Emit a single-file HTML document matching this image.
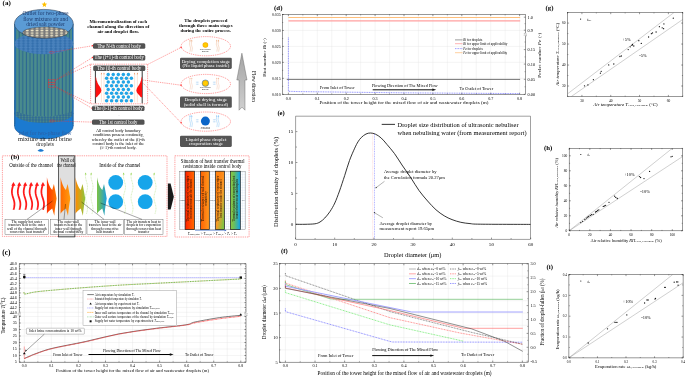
<!DOCTYPE html>
<html><head><meta charset="utf-8"><style>
html,body{margin:0;padding:0;background:#fff;overflow:hidden;}
svg{display:block;font-family:"Liberation Serif", serif;will-change:transform;}
</style></head><body>
<svg width="685" height="377" viewBox="0 0 685 377">
<defs>
<pattern id="stripes" x="15.2" y="0" width="3.6" height="10" patternUnits="userSpaceOnUse">
  <rect width="3.6" height="10" fill="#2b6792"/>
  <rect x="1.0" width="2.4" height="10" fill="#4b8d8c"/>
</pattern>
<pattern id="holes" x="0.5" y="0.3" width="4.6" height="2.7" patternUnits="userSpaceOnUse">
  <rect width="4.6" height="2.7" fill="#3470ae"/>
  <ellipse cx="2.3" cy="1.35" rx="1.4" ry="0.75" fill="#3f7cba" stroke="#6c9fd2" stroke-width="0.35"/>
</pattern>
<pattern id="holes2" x="0.3" y="0.6" width="4.9" height="2.6" patternUnits="userSpaceOnUse">
  <rect width="4.9" height="2.6" fill="#7a7a7a"/>
  <ellipse cx="2.45" cy="1.3" rx="1.5" ry="0.8" fill="#efe6c8"/>
</pattern>
<pattern id="holes3" x="0" y="0" width="3" height="2.4" patternUnits="userSpaceOnUse">
  <rect width="3" height="2.4" fill="#2f6a96"/>
  <ellipse cx="1.5" cy="1.2" rx="1.05" ry="0.75" fill="#4d8d86"/>
</pattern>
<pattern id="dots" x="0" y="0" width="0.8" height="0.8" patternUnits="userSpaceOnUse">
  <rect width="0.8" height="0.8" fill="#e6e6e6"/>
  <rect width="0.4" height="0.4" fill="#cacaca"/>
</pattern>
<linearGradient id="arrowg" x1="0" y1="0" x2="0" y2="1">
  <stop offset="0" stop-color="#a4a4a4"/><stop offset="1" stop-color="#cfcfcf"/>
</linearGradient>
<linearGradient id="w1" x1="0" y1="0" x2="1" y2="0">
  <stop offset="0" stop-color="#ff3000"/><stop offset="1" stop-color="#ff7a00"/>
</linearGradient>
<linearGradient id="w2" x1="0" y1="0" x2="1" y2="0">
  <stop offset="0" stop-color="#ff6a00"/><stop offset="1" stop-color="#ff9d10"/>
</linearGradient>
<linearGradient id="w3" x1="0" y1="0" x2="1" y2="0">
  <stop offset="0" stop-color="#ff8c00"/><stop offset="1" stop-color="#8cc63f"/>
</linearGradient>
<linearGradient id="w4" x1="0" y1="0" x2="1" y2="0">
  <stop offset="0" stop-color="#7dc242"/><stop offset="1" stop-color="#1a9de0"/>
</linearGradient>
<linearGradient id="b1" x1="0" y1="0" x2="1" y2="0">
  <stop offset="0" stop-color="#ff2000"/><stop offset="1" stop-color="#ff6a00"/>
</linearGradient>
<linearGradient id="b2" x1="0" y1="0" x2="1" y2="0">
  <stop offset="0" stop-color="#ff6000"/><stop offset="1" stop-color="#ff9a20"/>
</linearGradient>
<linearGradient id="b3" x1="0.2" y1="0.3" x2="0.8" y2="1">
  <stop offset="0" stop-color="#ff8210"/><stop offset="0.45" stop-color="#f89a28"/><stop offset="1" stop-color="#80c242"/>
</linearGradient>
<linearGradient id="b4" x1="0" y1="0" x2="1" y2="0">
  <stop offset="0" stop-color="#8cc63f"/><stop offset="0.35" stop-color="#6cbf5a"/><stop offset="1" stop-color="#0ea5f0"/>
</linearGradient>
<pattern id="bgrid" x="0" y="0" width="2" height="2.6" patternUnits="userSpaceOnUse">
  <rect width="2" height="2.6" fill="#fff"/>
  <path d="M0,0 H2 M0,0 V2.6" stroke="#a9c3e6" stroke-width="0.3"/>
</pattern>
<radialGradient id="sun" cx="0.5" cy="0.5" r="0.5">
  <stop offset="0" stop-color="#ffd700"/><stop offset="0.7" stop-color="#ffc000"/><stop offset="1" stop-color="#f0a000"/>
</radialGradient>

</defs>
<rect width="685" height="377" fill="#fff"/>
<text x="2.60" y="5.40" font-size="7.0" font-weight="bold">(a)</text>
<polygon points="44.40,1.70 45.17,3.54 47.16,3.70 45.64,5.00 46.10,6.95 44.40,5.90 42.70,6.95 43.16,5.00 41.64,3.70 43.63,3.54" fill="#ffc000"/>
<ellipse cx="43.85" cy="126.00" rx="29.45" ry="12.90" fill="#1b7ad0" stroke="#1a3f70" stroke-width="0.4"/>
<rect x="14.40" y="100.00" width="58.90" height="26.00" rx="0" fill="#1b7ad0" stroke="none" stroke-width="0.5"/>
<ellipse cx="43.85" cy="113.50" rx="29.45" ry="9.40" fill="url(#holes3)" stroke="none" stroke-width="0.5"/>
<clipPath id="bodyclip"><rect x="14.4" y="24" width="58.9" height="84"/><ellipse cx="43.85" cy="108" rx="29.45" ry="8.3"/></clipPath>
<g clip-path="url(#bodyclip)"><rect x="14.4" y="24" width="58.9" height="100" fill="url(#stripes)"/></g>
<rect x="14.40" y="24.00" width="1.30" height="100.00" rx="0" fill="#1f72be" stroke="none" stroke-width="0.5"/>
<rect x="72.00" y="24.00" width="1.30" height="100.00" rx="0" fill="#1f72be" stroke="none" stroke-width="0.5"/>
<line x1="14.60" y1="24.00" x2="14.60" y2="126.00" stroke="#1f4e79" stroke-width="0.5"/>
<line x1="73.10" y1="24.00" x2="73.10" y2="126.00" stroke="#1f4e79" stroke-width="0.5"/>
<ellipse cx="43.85" cy="43.60" rx="29.45" ry="10.60" fill="url(#holes)" stroke="none" stroke-width="0.5"/>
<ellipse cx="43.85" cy="23.70" rx="29.45" ry="14.30" fill="#5b9bd5" stroke="#2a3a50" stroke-width="0.55"/>
<ellipse cx="45.30" cy="32.60" rx="22.60" ry="5.60" fill="url(#holes2)" stroke="#222" stroke-width="0.35"/>
<text x="45.60" y="15.20" font-size="5.9" text-anchor="middle" fill="#1f3c6e" textLength="46.0" lengthAdjust="spacingAndGlyphs">Outlet for two-phase</text>
<text x="45.60" y="20.55" font-size="5.9" text-anchor="middle" fill="#1f3c6e" textLength="44.7" lengthAdjust="spacingAndGlyphs">flow mixture air and</text>
<text x="45.60" y="25.90" font-size="5.9" text-anchor="middle" fill="#1f3c6e" textLength="38.6" lengthAdjust="spacingAndGlyphs">dried salt powder</text>
<text x="45.00" y="134.90" font-size="5.6" text-anchor="middle" fill="#2a5fa6" textLength="53.0" lengthAdjust="spacingAndGlyphs">Inlet for two-phase flow</text>
<text x="44.90" y="140.60" font-size="5.6" text-anchor="middle" fill="#222" textLength="54.0" lengthAdjust="spacingAndGlyphs">mixture air and brine</text>
<text x="45.00" y="145.80" font-size="5.6" text-anchor="middle" fill="#222" textLength="17.8" lengthAdjust="spacingAndGlyphs">droplets</text>
<path d="M37.5,150.7 Q40.75,147.4 44,150.7 Q40.75,152.6 37.5,150.7 Z" fill="#1a78d0" stroke="none" stroke-width="0.5"/>
<ellipse cx="51.50" cy="52.30" rx="2.20" ry="1.00" fill="none" stroke="#ff2a2a" stroke-width="0.4"/>
<rect x="48.50" y="79.50" width="6.50" height="2.60" rx="0" fill="none" stroke="#ff2a2a" stroke-width="0.35"/>
<rect x="48.50" y="82.20" width="6.50" height="2.60" rx="0" fill="none" stroke="#ff2a2a" stroke-width="0.35"/>
<rect x="48.50" y="84.90" width="6.50" height="2.60" rx="0" fill="none" stroke="#ff2a2a" stroke-width="0.35"/>
<ellipse cx="52.00" cy="121.00" rx="2.40" ry="1.00" fill="none" stroke="#ff2a2a" stroke-width="0.4"/>
<line x1="54.00" y1="52.00" x2="92.50" y2="45.80" stroke="#ff2a2a" stroke-width="0.45" stroke-dasharray="1.3,0.9"/>
<circle cx="92.50" cy="45.80" r="0.75" fill="#ff2a2a" stroke="none" stroke-width="0.5"/>
<line x1="55.00" y1="80.50" x2="92.50" y2="57.50" stroke="#ff2a2a" stroke-width="0.45" stroke-dasharray="1.3,0.9"/>
<circle cx="92.50" cy="57.50" r="0.75" fill="#ff2a2a" stroke="none" stroke-width="0.5"/>
<line x1="55.00" y1="80.50" x2="90.60" y2="64.30" stroke="#ff2a2a" stroke-width="0.45" stroke-dasharray="1.3,0.9"/>
<line x1="55.00" y1="86.50" x2="90.60" y2="103.80" stroke="#ff2a2a" stroke-width="0.45" stroke-dasharray="1.3,0.9"/>
<line x1="55.00" y1="86.50" x2="92.30" y2="108.50" stroke="#ff2a2a" stroke-width="0.45" stroke-dasharray="1.3,0.9"/>
<circle cx="92.30" cy="108.50" r="0.75" fill="#ff2a2a" stroke="none" stroke-width="0.5"/>
<line x1="54.50" y1="121.00" x2="92.30" y2="122.10" stroke="#ff2a2a" stroke-width="0.45" stroke-dasharray="1.3,0.9"/>
<circle cx="92.30" cy="122.10" r="0.75" fill="#ff2a2a" stroke="none" stroke-width="0.5"/>
<text x="118.30" y="22.80" font-size="4.9" text-anchor="middle" font-weight="bold" textLength="57.5" lengthAdjust="spacingAndGlyphs">Micromentralization of each</text>
<text x="118.30" y="27.70" font-size="4.9" text-anchor="middle" font-weight="bold" textLength="62.0" lengthAdjust="spacingAndGlyphs">channel along the direction of</text>
<text x="118.30" y="32.60" font-size="4.9" text-anchor="middle" font-weight="bold" textLength="41.7" lengthAdjust="spacingAndGlyphs">air and droplet flow.</text>
<rect x="93.00" y="43.30" width="52.30" height="5.40" rx="1.5" fill="#525252" stroke="none" stroke-width="0.5"/>
<text x="119.15" y="47.50" font-size="5.1" text-anchor="middle" fill="#fff" textLength="43.5" lengthAdjust="spacingAndGlyphs">The N-th control body</text>
<circle cx="119.00" cy="52.60" r="0.3" fill="#99a" stroke="none" stroke-width="0.5"/>
<rect x="93.00" y="55.00" width="52.30" height="5.40" rx="1.5" fill="#525252" stroke="none" stroke-width="0.5"/>
<text x="119.15" y="59.20" font-size="5.1" text-anchor="middle" fill="#fff" textLength="49.3" lengthAdjust="spacingAndGlyphs">The (i+1)-th control body</text>
<rect x="93.20" y="65.60" width="52.10" height="5.40" rx="1.5" fill="#525252" stroke="none" stroke-width="0.5"/>
<text x="119.25" y="69.80" font-size="5.1" text-anchor="middle" fill="#fff" textLength="43.9" lengthAdjust="spacingAndGlyphs">The (i)-th control body</text>
<rect x="92.00" y="105.70" width="52.50" height="5.40" rx="1.5" fill="#525252" stroke="none" stroke-width="0.5"/>
<text x="118.25" y="109.90" font-size="5.1" text-anchor="middle" fill="#fff" textLength="49.0" lengthAdjust="spacingAndGlyphs">The (i-1)-th control body</text>
<circle cx="119.00" cy="115.70" r="0.3" fill="#99a" stroke="none" stroke-width="0.5"/>
<rect x="92.00" y="119.40" width="52.50" height="5.40" rx="1.5" fill="#525252" stroke="none" stroke-width="0.5"/>
<text x="118.25" y="123.60" font-size="5.1" text-anchor="middle" fill="#fff" textLength="38.4" lengthAdjust="spacingAndGlyphs">The 1st control body</text>
<rect x="90.60" y="64.20" width="57.00" height="39.60" rx="0" fill="none" stroke="#ff2a2a" stroke-width="0.45" stroke-dasharray="1.3,0.9"/>
<line x1="95.40" y1="71.00" x2="95.40" y2="103.30" stroke="#222" stroke-width="0.9"/>
<line x1="142.20" y1="71.00" x2="142.20" y2="103.30" stroke="#222" stroke-width="0.9"/>
<line x1="101.40" y1="102.50" x2="101.40" y2="73.60" stroke="#f5a878" stroke-width="0.3"/>
<polygon points="100.75,74.3 102.05,74.3 101.40,72.6" fill="#e8804a"/>
<line x1="104.00" y1="102.50" x2="104.00" y2="73.60" stroke="#f5a878" stroke-width="0.3"/>
<polygon points="103.35,74.3 104.65,74.3 104.00,72.6" fill="#e8804a"/>
<line x1="108.20" y1="102.50" x2="108.20" y2="73.60" stroke="#f5a878" stroke-width="0.3"/>
<polygon points="107.55,74.3 108.85,74.3 108.20,72.6" fill="#e8804a"/>
<line x1="113.25" y1="102.50" x2="113.25" y2="73.60" stroke="#f5a878" stroke-width="0.3"/>
<polygon points="112.60,74.3 113.90,74.3 113.25,72.6" fill="#e8804a"/>
<line x1="118.30" y1="102.50" x2="118.30" y2="73.60" stroke="#f5a878" stroke-width="0.3"/>
<polygon points="117.65,74.3 118.95,74.3 118.30,72.6" fill="#e8804a"/>
<line x1="123.35" y1="102.50" x2="123.35" y2="73.60" stroke="#f5a878" stroke-width="0.3"/>
<polygon points="122.70,74.3 124.00,74.3 123.35,72.6" fill="#e8804a"/>
<line x1="128.40" y1="102.50" x2="128.40" y2="73.60" stroke="#f5a878" stroke-width="0.3"/>
<polygon points="127.75,74.3 129.05,74.3 128.40,72.6" fill="#e8804a"/>
<line x1="134.60" y1="102.50" x2="134.60" y2="73.60" stroke="#f5a878" stroke-width="0.3"/>
<polygon points="133.95,74.3 135.25,74.3 134.60,72.6" fill="#e8804a"/>
<line x1="137.40" y1="102.50" x2="137.40" y2="73.60" stroke="#f5a878" stroke-width="0.3"/>
<polygon points="136.75,74.3 138.05,74.3 137.40,72.6" fill="#e8804a"/>
<circle cx="108.20" cy="74.60" r="1.75" fill="#22a5e6" stroke="none" stroke-width="0.5"/>
<circle cx="113.25" cy="74.60" r="1.75" fill="#22a5e6" stroke="none" stroke-width="0.5"/>
<circle cx="118.30" cy="74.60" r="1.75" fill="#22a5e6" stroke="none" stroke-width="0.5"/>
<circle cx="123.35" cy="74.60" r="1.75" fill="#22a5e6" stroke="none" stroke-width="0.5"/>
<circle cx="128.40" cy="74.60" r="1.75" fill="#22a5e6" stroke="none" stroke-width="0.5"/>
<circle cx="106.60" cy="78.34" r="1.75" fill="#22a5e6" stroke="none" stroke-width="0.5"/>
<circle cx="111.55" cy="78.34" r="1.75" fill="#22a5e6" stroke="none" stroke-width="0.5"/>
<circle cx="116.50" cy="78.34" r="1.75" fill="#22a5e6" stroke="none" stroke-width="0.5"/>
<circle cx="121.45" cy="78.34" r="1.75" fill="#22a5e6" stroke="none" stroke-width="0.5"/>
<circle cx="126.40" cy="78.34" r="1.75" fill="#22a5e6" stroke="none" stroke-width="0.5"/>
<circle cx="131.35" cy="78.34" r="1.75" fill="#22a5e6" stroke="none" stroke-width="0.5"/>
<circle cx="108.20" cy="82.08" r="1.75" fill="#22a5e6" stroke="none" stroke-width="0.5"/>
<circle cx="113.25" cy="82.08" r="1.75" fill="#22a5e6" stroke="none" stroke-width="0.5"/>
<circle cx="118.30" cy="82.08" r="1.75" fill="#22a5e6" stroke="none" stroke-width="0.5"/>
<circle cx="123.35" cy="82.08" r="1.75" fill="#22a5e6" stroke="none" stroke-width="0.5"/>
<circle cx="128.40" cy="82.08" r="1.75" fill="#22a5e6" stroke="none" stroke-width="0.5"/>
<circle cx="106.60" cy="85.82" r="1.75" fill="#22a5e6" stroke="none" stroke-width="0.5"/>
<circle cx="111.55" cy="85.82" r="1.75" fill="#22a5e6" stroke="none" stroke-width="0.5"/>
<circle cx="116.50" cy="85.82" r="1.75" fill="#22a5e6" stroke="none" stroke-width="0.5"/>
<circle cx="121.45" cy="85.82" r="1.75" fill="#22a5e6" stroke="none" stroke-width="0.5"/>
<circle cx="126.40" cy="85.82" r="1.75" fill="#22a5e6" stroke="none" stroke-width="0.5"/>
<circle cx="131.35" cy="85.82" r="1.75" fill="#22a5e6" stroke="none" stroke-width="0.5"/>
<circle cx="108.20" cy="89.56" r="1.75" fill="#22a5e6" stroke="none" stroke-width="0.5"/>
<circle cx="113.25" cy="89.56" r="1.75" fill="#22a5e6" stroke="none" stroke-width="0.5"/>
<circle cx="118.30" cy="89.56" r="1.75" fill="#22a5e6" stroke="none" stroke-width="0.5"/>
<circle cx="123.35" cy="89.56" r="1.75" fill="#22a5e6" stroke="none" stroke-width="0.5"/>
<circle cx="128.40" cy="89.56" r="1.75" fill="#22a5e6" stroke="none" stroke-width="0.5"/>
<circle cx="106.60" cy="93.30" r="1.75" fill="#22a5e6" stroke="none" stroke-width="0.5"/>
<circle cx="111.55" cy="93.30" r="1.75" fill="#22a5e6" stroke="none" stroke-width="0.5"/>
<circle cx="116.50" cy="93.30" r="1.75" fill="#22a5e6" stroke="none" stroke-width="0.5"/>
<circle cx="121.45" cy="93.30" r="1.75" fill="#22a5e6" stroke="none" stroke-width="0.5"/>
<circle cx="126.40" cy="93.30" r="1.75" fill="#22a5e6" stroke="none" stroke-width="0.5"/>
<circle cx="131.35" cy="93.30" r="1.75" fill="#22a5e6" stroke="none" stroke-width="0.5"/>
<circle cx="108.20" cy="97.04" r="1.75" fill="#22a5e6" stroke="none" stroke-width="0.5"/>
<circle cx="113.25" cy="97.04" r="1.75" fill="#22a5e6" stroke="none" stroke-width="0.5"/>
<circle cx="118.30" cy="97.04" r="1.75" fill="#22a5e6" stroke="none" stroke-width="0.5"/>
<circle cx="123.35" cy="97.04" r="1.75" fill="#22a5e6" stroke="none" stroke-width="0.5"/>
<circle cx="128.40" cy="97.04" r="1.75" fill="#22a5e6" stroke="none" stroke-width="0.5"/>
<circle cx="106.60" cy="100.78" r="1.75" fill="#22a5e6" stroke="none" stroke-width="0.5"/>
<circle cx="111.55" cy="100.78" r="1.75" fill="#22a5e6" stroke="none" stroke-width="0.5"/>
<circle cx="116.50" cy="100.78" r="1.75" fill="#22a5e6" stroke="none" stroke-width="0.5"/>
<circle cx="121.45" cy="100.78" r="1.75" fill="#22a5e6" stroke="none" stroke-width="0.5"/>
<circle cx="126.40" cy="100.78" r="1.75" fill="#22a5e6" stroke="none" stroke-width="0.5"/>
<circle cx="131.35" cy="100.78" r="1.75" fill="#22a5e6" stroke="none" stroke-width="0.5"/>
<polygon points="95.60,76.40 96.20,77.80 96.60,80.20 97.10,81.20 97.50,82.80 98.40,84.40 99.60,86.20 100.80,88.20 101.40,90.40 100.80,92.40 99.40,94.30 98.20,95.60 97.00,96.90 95.60,97.60" fill="#ff1010"/>
<polygon points="142.10,76.40 141.50,77.80 141.10,80.20 140.60,81.20 140.20,82.80 139.30,84.40 138.10,86.20 136.90,88.20 136.30,90.40 136.90,92.40 138.30,94.30 139.50,95.60 140.70,96.90 142.10,97.60" fill="#ff1010"/>
<text x="118.30" y="132.30" font-size="4.6" text-anchor="middle" textLength="44.8" lengthAdjust="spacingAndGlyphs">All control body boundary</text>
<text x="118.30" y="136.47" font-size="4.6" text-anchor="middle" textLength="50.8" lengthAdjust="spacingAndGlyphs">conditions possess continuity,</text>
<text x="118.30" y="140.64" font-size="4.6" text-anchor="middle" textLength="52.9" lengthAdjust="spacingAndGlyphs">whereby the outlet of the (i)-th</text>
<text x="118.30" y="144.81" font-size="4.6" text-anchor="middle" textLength="51.6" lengthAdjust="spacingAndGlyphs">control body is the inlet of the</text>
<text x="118.30" y="148.98" font-size="4.6" text-anchor="middle" textLength="36.4" lengthAdjust="spacingAndGlyphs">(i+1)-th control body.</text>
<text x="205.80" y="22.40" font-size="4.9" text-anchor="middle" font-weight="bold" textLength="43.2" lengthAdjust="spacingAndGlyphs">The droplets proceed</text>
<text x="205.80" y="27.25" font-size="4.9" text-anchor="middle" font-weight="bold" textLength="53.6" lengthAdjust="spacingAndGlyphs">through three main stages</text>
<text x="205.80" y="32.10" font-size="4.9" text-anchor="middle" font-weight="bold" textLength="50.4" lengthAdjust="spacingAndGlyphs">during the entire process.</text>
<ellipse cx="205.80" cy="46.20" rx="24.70" ry="9.60" fill="#fff" stroke="#ff2a2a" stroke-width="0.45" stroke-dasharray="1.3,0.9"/>
<circle cx="181.10" cy="47.40" r="0.7" fill="#ff2a2a" stroke="none" stroke-width="0.5"/>
<circle cx="205.40" cy="45.00" r="2.8" fill="url(#sun)" stroke="none" stroke-width="0.5"/>
<text x="205.40" y="50.00" font-size="2.0" text-anchor="middle">Water-soluble</text>
<text x="205.40" y="52.10" font-size="2.0" text-anchor="middle">material</text>
<polyline points="190.00,51.70 190.60,48.20 189.50,44.20 190.00,40.70" fill="none" stroke="#e8a070" stroke-width="0.35"/>
<polygon points="189.40,41.20 190.60,41.20 190.00,39.60" fill="#e8a070"/>
<polyline points="191.80,51.70 192.40,48.20 191.30,44.20 191.80,40.70" fill="none" stroke="#e8a070" stroke-width="0.35"/>
<polygon points="191.20,41.20 192.40,41.20 191.80,39.60" fill="#e8a070"/>
<polyline points="216.80,51.70 217.40,48.20 216.30,44.20 216.80,40.70" fill="none" stroke="#e8a070" stroke-width="0.35"/>
<polygon points="216.20,41.20 217.40,41.20 216.80,39.60" fill="#e8a070"/>
<polyline points="218.60,51.70 219.20,48.20 218.10,44.20 218.60,40.70" fill="none" stroke="#e8a070" stroke-width="0.35"/>
<polygon points="218.00,41.20 219.20,41.20 218.60,39.60" fill="#e8a070"/>
<ellipse cx="205.80" cy="84.00" rx="24.70" ry="9.60" fill="#fff" stroke="#ff2a2a" stroke-width="0.45" stroke-dasharray="1.3,0.9"/>
<circle cx="181.10" cy="85.20" r="0.7" fill="#ff2a2a" stroke="none" stroke-width="0.5"/>
<circle cx="205.40" cy="83.20" r="3.3" fill="url(#sun)" stroke="#2080d0" stroke-width="0.5"/>
<text x="205.40" y="88.30" font-size="2.0" text-anchor="middle">Water-soluble</text>
<text x="205.40" y="90.40" font-size="2.0" text-anchor="middle">material</text>
<polyline points="190.00,89.50 190.60,86.00 189.50,82.00 190.00,78.50" fill="none" stroke="#f0b090" stroke-width="0.35"/>
<polygon points="189.40,79.00 190.60,79.00 190.00,77.40" fill="#f0b090"/>
<polyline points="191.80,89.50 192.40,86.00 191.30,82.00 191.80,78.50" fill="none" stroke="#f0b090" stroke-width="0.35"/>
<polygon points="191.20,79.00 192.40,79.00 191.80,77.40" fill="#f0b090"/>
<polyline points="216.80,89.50 217.40,86.00 216.30,82.00 216.80,78.50" fill="none" stroke="#f0b090" stroke-width="0.35"/>
<polygon points="216.20,79.00 217.40,79.00 216.80,77.40" fill="#f0b090"/>
<polyline points="218.60,89.50 219.20,86.00 218.10,82.00 218.60,78.50" fill="none" stroke="#f0b090" stroke-width="0.35"/>
<polygon points="218.00,79.00 219.20,79.00 218.60,77.40" fill="#f0b090"/>
<line x1="195.90" y1="82.20" x2="197.40" y2="82.20" stroke="#60a8e8" stroke-width="0.35"/>
<line x1="195.90" y1="84.20" x2="197.40" y2="84.20" stroke="#60a8e8" stroke-width="0.35"/>
<line x1="197.10" y1="82.20" x2="198.60" y2="82.20" stroke="#60a8e8" stroke-width="0.35"/>
<line x1="197.10" y1="84.20" x2="198.60" y2="84.20" stroke="#60a8e8" stroke-width="0.35"/>
<line x1="212.90" y1="82.20" x2="214.40" y2="82.20" stroke="#60a8e8" stroke-width="0.35"/>
<line x1="212.90" y1="84.20" x2="214.40" y2="84.20" stroke="#60a8e8" stroke-width="0.35"/>
<line x1="214.10" y1="82.20" x2="215.60" y2="82.20" stroke="#60a8e8" stroke-width="0.35"/>
<line x1="214.10" y1="84.20" x2="215.60" y2="84.20" stroke="#60a8e8" stroke-width="0.35"/>
<ellipse cx="205.80" cy="121.60" rx="24.70" ry="9.60" fill="#fff" stroke="#ff2a2a" stroke-width="0.45" stroke-dasharray="1.3,0.9"/>
<circle cx="181.10" cy="122.80" r="0.7" fill="#ff2a2a" stroke="none" stroke-width="0.5"/>
<circle cx="205.40" cy="121.10" r="4.5" fill="#0b66c8" stroke="none" stroke-width="0.5"/>
<text x="205.40" y="127.60" font-size="2.0" text-anchor="middle">High-speed</text>
<text x="205.40" y="129.40" font-size="2.0" text-anchor="middle">evaporation</text>
<polyline points="190.00,127.10 190.60,123.60 189.50,119.60 190.00,116.10" fill="none" stroke="#60b0f0" stroke-width="0.35"/>
<polygon points="189.40,116.60 190.60,116.60 190.00,115.00" fill="#60b0f0"/>
<polyline points="191.80,127.10 192.40,123.60 191.30,119.60 191.80,116.10" fill="none" stroke="#60b0f0" stroke-width="0.35"/>
<polygon points="191.20,116.60 192.40,116.60 191.80,115.00" fill="#60b0f0"/>
<polyline points="216.80,127.10 217.40,123.60 216.30,119.60 216.80,116.10" fill="none" stroke="#60b0f0" stroke-width="0.35"/>
<polygon points="216.20,116.60 217.40,116.60 216.80,115.00" fill="#60b0f0"/>
<polyline points="218.60,127.10 219.20,123.60 218.10,119.60 218.60,116.10" fill="none" stroke="#60b0f0" stroke-width="0.35"/>
<polygon points="218.00,116.60 219.20,116.60 218.60,115.00" fill="#60b0f0"/>
<line x1="195.90" y1="119.80" x2="197.40" y2="119.80" stroke="#60a8e8" stroke-width="0.35"/>
<line x1="195.90" y1="121.80" x2="197.40" y2="121.80" stroke="#60a8e8" stroke-width="0.35"/>
<line x1="197.10" y1="119.80" x2="198.60" y2="119.80" stroke="#60a8e8" stroke-width="0.35"/>
<line x1="197.10" y1="121.80" x2="198.60" y2="121.80" stroke="#60a8e8" stroke-width="0.35"/>
<line x1="212.90" y1="119.80" x2="214.40" y2="119.80" stroke="#60a8e8" stroke-width="0.35"/>
<line x1="212.90" y1="121.80" x2="214.40" y2="121.80" stroke="#60a8e8" stroke-width="0.35"/>
<line x1="214.10" y1="119.80" x2="215.60" y2="119.80" stroke="#60a8e8" stroke-width="0.35"/>
<line x1="214.10" y1="121.80" x2="215.60" y2="121.80" stroke="#60a8e8" stroke-width="0.35"/>
<rect x="180.00" y="57.80" width="51.80" height="11.10" rx="1.3" fill="#555555" stroke="none" stroke-width="0.5"/>
<text x="205.90" y="62.60" font-size="5.0" text-anchor="middle" fill="#fff" textLength="48.5" lengthAdjust="spacingAndGlyphs">Drying completion stage</text>
<text x="205.90" y="67.40" font-size="5.0" text-anchor="middle" fill="#fff" textLength="47.0" lengthAdjust="spacingAndGlyphs">(No liquid phase inside)</text>
<rect x="180.00" y="96.60" width="51.80" height="11.10" rx="1.3" fill="#555555" stroke="none" stroke-width="0.5"/>
<text x="205.90" y="101.40" font-size="5.0" text-anchor="middle" fill="#fff" textLength="43.0" lengthAdjust="spacingAndGlyphs">Droplet drying stage</text>
<text x="205.90" y="106.20" font-size="5.0" text-anchor="middle" fill="#fff" textLength="44.5" lengthAdjust="spacingAndGlyphs">(solid shell is formed)</text>
<rect x="180.00" y="135.80" width="51.80" height="11.10" rx="1.3" fill="#555555" stroke="none" stroke-width="0.5"/>
<text x="205.90" y="140.60" font-size="5.0" text-anchor="middle" fill="#fff" textLength="40.8" lengthAdjust="spacingAndGlyphs">Liquid phase droplet</text>
<text x="205.90" y="145.40" font-size="5.0" text-anchor="middle" fill="#fff" textLength="34.5" lengthAdjust="spacingAndGlyphs">evaporation stage</text>
<line x1="147.60" y1="64.50" x2="181.10" y2="47.40" stroke="#ff2a2a" stroke-width="0.45" stroke-dasharray="1.3,0.9"/>
<line x1="142.50" y1="80.00" x2="181.10" y2="85.20" stroke="#ff2a2a" stroke-width="0.45" stroke-dasharray="1.3,0.9"/>
<line x1="142.50" y1="82.50" x2="181.10" y2="122.80" stroke="#ff2a2a" stroke-width="0.45" stroke-dasharray="1.3,0.9"/>
<polygon points="241.9,53.2 247.0,80.0 245.0,80.0 245.0,110.2 242.0,107.2 239.0,110.2 239.0,80.0 236.8,80.0" fill="url(#arrowg)" stroke="#555" stroke-width="0.4"/>
<text x="251.60" y="71.00" font-size="5.3" textLength="30.8" lengthAdjust="spacingAndGlyphs" transform="rotate(90 251.60 71.00)">Flow direction</text>
<rect x="2.40" y="155.80" width="164.60" height="80.60" rx="0" fill="none" stroke="#ff2a2a" stroke-width="0.45" stroke-dasharray="1.3,0.9"/>
<rect x="174.90" y="155.80" width="74.20" height="81.20" rx="0" fill="none" stroke="#ff2a2a" stroke-width="0.45" stroke-dasharray="1.3,0.9"/>
<rect x="58.30" y="155.90" width="16.60" height="81.00" rx="0" fill="url(#dots)" stroke="#333" stroke-width="0.5"/>
<text x="10.80" y="159.00" font-size="7.0" font-weight="bold">(b)</text>
<text x="9.30" y="166.60" font-size="5.3" textLength="43.7" lengthAdjust="spacingAndGlyphs">Outside of the channel</text>
<text x="67.30" y="161.80" font-size="5.3" text-anchor="middle" textLength="13.8" lengthAdjust="spacingAndGlyphs">Wall of</text>
<text x="66.30" y="166.60" font-size="5.3" text-anchor="middle" textLength="18.6" lengthAdjust="spacingAndGlyphs">the channel</text>
<text x="99.30" y="166.60" font-size="5.3" textLength="41.1" lengthAdjust="spacingAndGlyphs">Inside of the channel</text>
<polyline points="13.46,209.80 13.81,208.65 14.10,207.50 14.33,206.35 14.47,205.20 14.50,204.05 14.43,202.90 14.25,201.75 14.00,200.60 13.68,199.45 13.32,198.30 12.95,197.15 12.60,196.00 12.30,194.85 12.07,193.70 11.94,192.55 11.90,191.40 11.97,190.25 12.14,189.10 12.39,187.95 12.71,186.80 13.07,185.65 13.44,184.50" fill="none" stroke="#ff1a1a" stroke-width="1.75"/>
<polygon points="11.34,185.70 15.54,185.70 13.44,181.90" fill="#ff1a1a"/>
<polyline points="19.36,209.80 19.71,208.65 20.00,207.50 20.23,206.35 20.37,205.20 20.40,204.05 20.33,202.90 20.15,201.75 19.90,200.60 19.58,199.45 19.22,198.30 18.85,197.15 18.50,196.00 18.20,194.85 17.97,193.70 17.84,192.55 17.80,191.40 17.87,190.25 18.04,189.10 18.29,187.95 18.61,186.80 18.97,185.65 19.34,184.50" fill="none" stroke="#ff1a1a" stroke-width="1.75"/>
<polygon points="17.24,185.70 21.44,185.70 19.34,181.90" fill="#ff1a1a"/>
<polyline points="25.26,209.80 25.61,208.65 25.90,207.50 26.13,206.35 26.27,205.20 26.30,204.05 26.23,202.90 26.05,201.75 25.80,200.60 25.48,199.45 25.12,198.30 24.75,197.15 24.40,196.00 24.10,194.85 23.87,193.70 23.74,192.55 23.70,191.40 23.77,190.25 23.94,189.10 24.19,187.95 24.51,186.80 24.87,185.65 25.24,184.50" fill="none" stroke="#ff1a1a" stroke-width="1.75"/>
<polygon points="23.14,185.70 27.34,185.70 25.24,181.90" fill="#ff1a1a"/>
<polyline points="31.16,209.80 31.51,208.65 31.80,207.50 32.03,206.35 32.17,205.20 32.20,204.05 32.13,202.90 31.95,201.75 31.70,200.60 31.38,199.45 31.02,198.30 30.65,197.15 30.30,196.00 30.00,194.85 29.77,193.70 29.64,192.55 29.60,191.40 29.67,190.25 29.84,189.10 30.09,187.95 30.41,186.80 30.77,185.65 31.14,184.50" fill="none" stroke="#ff1a1a" stroke-width="1.75"/>
<polygon points="29.04,185.70 33.24,185.70 31.14,181.90" fill="#ff1a1a"/>
<polyline points="37.06,209.80 37.41,208.65 37.70,207.50 37.93,206.35 38.07,205.20 38.10,204.05 38.03,202.90 37.85,201.75 37.60,200.60 37.28,199.45 36.92,198.30 36.55,197.15 36.20,196.00 35.90,194.85 35.67,193.70 35.54,192.55 35.50,191.40 35.57,190.25 35.74,189.10 35.99,187.95 36.31,186.80 36.67,185.65 37.04,184.50" fill="none" stroke="#ff1a1a" stroke-width="1.75"/>
<polygon points="34.94,185.70 39.14,185.70 37.04,181.90" fill="#ff1a1a"/>
<polyline points="42.96,209.80 43.31,208.65 43.60,207.50 43.83,206.35 43.97,205.20 44.00,204.05 43.93,202.90 43.75,201.75 43.50,200.60 43.18,199.45 42.82,198.30 42.45,197.15 42.10,196.00 41.80,194.85 41.57,193.70 41.44,192.55 41.40,191.40 41.47,190.25 41.64,189.10 41.89,187.95 42.21,186.80 42.57,185.65 42.94,184.50" fill="none" stroke="#ff1a1a" stroke-width="1.75"/>
<polygon points="40.84,185.70 45.04,185.70 42.94,181.90" fill="#ff1a1a"/>
<path d="M46.90,177.30 C48.00,183.30 50.00,187.90 52.20,189.90 L53.90,183.90 C54.90,188.60 55.90,193.90 56.60,198.50 C55.90,203.10 54.90,208.40 54.30,215.70 L52.20,208.40 C50.00,209.80 48.00,211.70 46.90,213.70 Z" fill="url(#w1)" stroke="none" stroke-width="0.5"/>
<path d="M60.60,177.30 C61.70,183.30 63.70,187.90 65.90,189.90 L67.60,183.90 C68.60,188.60 69.60,193.90 70.30,198.50 C69.60,203.10 68.60,208.40 68.00,215.70 L65.90,208.40 C63.70,209.80 61.70,211.70 60.60,213.70 Z" fill="url(#w2)" stroke="none" stroke-width="0.5"/>
<path d="M75.50,177.30 C76.60,183.30 78.60,187.90 80.80,189.90 L82.50,183.90 C83.50,188.60 84.50,193.90 85.20,198.50 C84.50,203.10 83.50,208.40 82.90,215.70 L80.80,208.40 C78.60,209.80 76.60,211.70 75.50,213.70 Z" fill="url(#w3)" stroke="none" stroke-width="0.5"/>
<path d="M97.00,177.30 C98.10,183.30 100.10,187.90 102.30,189.90 L104.00,183.90 C105.00,188.60 106.00,193.90 106.70,198.50 C106.00,203.10 105.00,208.40 104.40,215.70 L102.30,208.40 C100.10,209.80 98.10,211.70 97.00,213.70 Z" fill="url(#w4)" stroke="none" stroke-width="0.5"/>
<polyline points="86.50,213.80 86.84,212.60 87.14,211.40 87.37,210.20 87.49,209.00 87.48,207.80 87.36,206.60 87.14,205.40 86.83,204.20 86.49,203.00 86.15,201.80 85.85,200.60 85.63,199.40 85.51,198.20 85.52,197.00 85.64,195.80 85.87,194.60 86.17,193.40 86.52,192.20 86.86,191.00 87.16,189.80 87.38,188.60 87.49,187.40 87.48,186.20 87.35,185.00 87.12,183.80 86.82,182.60 86.47,181.40 86.13,180.20 85.84,179.00 85.62,177.80 85.51,176.60 85.52,175.40 85.65,174.20" fill="none" stroke="#8cd040" stroke-width="0.35" stroke-dasharray="1,0.6"/>
<polygon points="84.75,174.60 86.55,174.60 85.65,172.60" fill="#8cd040"/>
<polyline points="92.00,213.80 92.34,212.60 92.64,211.40 92.87,210.20 92.99,209.00 92.98,207.80 92.86,206.60 92.64,205.40 92.33,204.20 91.99,203.00 91.65,201.80 91.35,200.60 91.13,199.40 91.01,198.20 91.02,197.00 91.14,195.80 91.37,194.60 91.67,193.40 92.02,192.20 92.36,191.00 92.66,189.80 92.88,188.60 92.99,187.40 92.98,186.20 92.85,185.00 92.62,183.80 92.32,182.60 91.97,181.40 91.63,180.20 91.34,179.00 91.12,177.80 91.01,176.60 91.02,175.40 91.15,174.20" fill="none" stroke="#8cd040" stroke-width="0.35" stroke-dasharray="1,0.6"/>
<polygon points="90.25,174.60 92.05,174.60 91.15,172.60" fill="#8cd040"/>
<polyline points="124.50,213.80 124.84,212.60 125.14,211.40 125.37,210.20 125.49,209.00 125.48,207.80 125.36,206.60 125.14,205.40 124.83,204.20 124.49,203.00 124.15,201.80 123.85,200.60 123.63,199.40 123.51,198.20 123.52,197.00 123.64,195.80 123.87,194.60 124.17,193.40 124.52,192.20 124.86,191.00 125.16,189.80 125.38,188.60 125.49,187.40 125.48,186.20 125.35,185.00 125.12,183.80 124.82,182.60 124.47,181.40 124.13,180.20 123.84,179.00 123.62,177.80 123.51,176.60 123.52,175.40 123.65,174.20" fill="none" stroke="#8cd040" stroke-width="0.35" stroke-dasharray="1,0.6"/>
<polygon points="122.75,174.60 124.55,174.60 123.65,172.60" fill="#8cd040"/>
<polyline points="132.00,213.80 132.34,212.60 132.64,211.40 132.87,210.20 132.99,209.00 132.98,207.80 132.86,206.60 132.64,205.40 132.33,204.20 131.99,203.00 131.65,201.80 131.35,200.60 131.13,199.40 131.01,198.20 131.02,197.00 131.14,195.80 131.37,194.60 131.67,193.40 132.02,192.20 132.36,191.00 132.66,189.80 132.88,188.60 132.99,187.40 132.98,186.20 132.85,185.00 132.62,183.80 132.32,182.60 131.97,181.40 131.63,180.20 131.34,179.00 131.12,177.80 131.01,176.60 131.02,175.40 131.15,174.20" fill="none" stroke="#8cd040" stroke-width="0.35" stroke-dasharray="1,0.6"/>
<polygon points="130.25,174.60 132.05,174.60 131.15,172.60" fill="#8cd040"/>
<polyline points="155.00,213.80 155.34,212.60 155.64,211.40 155.87,210.20 155.99,209.00 155.98,207.80 155.86,206.60 155.64,205.40 155.33,204.20 154.99,203.00 154.65,201.80 154.35,200.60 154.13,199.40 154.01,198.20 154.02,197.00 154.14,195.80 154.37,194.60 154.67,193.40 155.02,192.20 155.36,191.00 155.66,189.80 155.88,188.60 155.99,187.40 155.98,186.20 155.85,185.00 155.62,183.80 155.32,182.60 154.97,181.40 154.63,180.20 154.34,179.00 154.12,177.80 154.01,176.60 154.02,175.40 154.15,174.20" fill="none" stroke="#8cd040" stroke-width="0.35" stroke-dasharray="1,0.6"/>
<polygon points="153.25,174.60 155.05,174.60 154.15,172.60" fill="#8cd040"/>
<circle cx="115.70" cy="182.40" r="7.4" fill="#17a5ea" stroke="none" stroke-width="0.5"/>
<circle cx="145.20" cy="182.40" r="7.4" fill="#17a5ea" stroke="none" stroke-width="0.5"/>
<circle cx="115.70" cy="201.70" r="7.4" fill="#17a5ea" stroke="none" stroke-width="0.5"/>
<circle cx="145.20" cy="201.70" r="7.4" fill="#17a5ea" stroke="none" stroke-width="0.5"/>
<rect x="5.00" y="219.40" width="43.60" height="15.20" rx="0" fill="#fff" stroke="#555" stroke-width="0.4"/>
<text x="26.80" y="222.60" font-size="3.6" text-anchor="middle">The supply hot water</text>
<text x="26.80" y="226.05" font-size="3.6" text-anchor="middle">transfers heat to the outer</text>
<text x="26.80" y="229.50" font-size="3.6" text-anchor="middle">wall of the channel through</text>
<text x="26.80" y="232.95" font-size="3.6" text-anchor="middle">convective heat transfer</text>
<rect x="50.60" y="219.40" width="35.40" height="15.20" rx="0" fill="#fff" stroke="#555" stroke-width="0.4"/>
<text x="68.30" y="222.60" font-size="3.6" text-anchor="middle">The outer wall</text>
<text x="68.30" y="226.05" font-size="3.6" text-anchor="middle">transfers heat to the</text>
<text x="68.30" y="229.50" font-size="3.6" text-anchor="middle">inner wall through</text>
<text x="68.30" y="232.95" font-size="3.6" text-anchor="middle">thermal conductivity</text>
<rect x="87.00" y="219.40" width="36.20" height="15.20" rx="0" fill="#fff" stroke="#555" stroke-width="0.4"/>
<text x="105.10" y="222.60" font-size="3.6" text-anchor="middle">The inner wall</text>
<text x="105.10" y="226.05" font-size="3.6" text-anchor="middle">transfers heat to the air</text>
<text x="105.10" y="229.50" font-size="3.6" text-anchor="middle">through convective</text>
<text x="105.10" y="232.95" font-size="3.6" text-anchor="middle">heat transfer</text>
<rect x="124.50" y="219.40" width="38.50" height="15.20" rx="0" fill="#fff" stroke="#555" stroke-width="0.4"/>
<text x="143.75" y="222.60" font-size="3.6" text-anchor="middle">The air transfers heat to</text>
<text x="143.75" y="226.05" font-size="3.6" text-anchor="middle">droplets for evaporation</text>
<text x="143.75" y="229.50" font-size="3.6" text-anchor="middle">through convection heat</text>
<text x="143.75" y="232.95" font-size="3.6" text-anchor="middle">transfer</text>
<rect x="58.30" y="155.90" width="16.60" height="81.00" rx="0" fill="none" stroke="#333" stroke-width="0.5"/>
<line x1="27.00" y1="219.40" x2="52.50" y2="201.00" stroke="#000" stroke-width="0.35"/>
<line x1="64.00" y1="219.40" x2="65.50" y2="204.00" stroke="#000" stroke-width="0.35"/>
<line x1="104.00" y1="219.40" x2="81.50" y2="202.00" stroke="#000" stroke-width="0.35"/>
<line x1="142.00" y1="219.40" x2="100.50" y2="203.00" stroke="#000" stroke-width="0.35"/>
<polygon points="167.9,183.5 170.6,183.5 173.8,196.7 170.6,209.4 167.9,209.4" fill="#1a1a1a"/>
<text x="212.70" y="162.90" font-size="5.2" text-anchor="middle" textLength="64.0" lengthAdjust="spacingAndGlyphs">Situation of heat transfer thermal</text>
<text x="212.40" y="167.60" font-size="5.2" text-anchor="middle" textLength="58.3" lengthAdjust="spacingAndGlyphs">resistance inside control body</text>
<rect x="179.30" y="171.20" width="66.30" height="58.40" rx="0" fill="url(#bgrid)" stroke="#666" stroke-width="0.35"/>
<rect x="185.10" y="171.20" width="9.30" height="58.40" rx="0" fill="url(#b1)" stroke="#1a1a1a" stroke-width="0.7"/>
<rect x="200.50" y="171.20" width="8.80" height="58.40" rx="0" fill="url(#b2)" stroke="#1a1a1a" stroke-width="0.7"/>
<rect x="215.60" y="171.20" width="8.80" height="58.40" rx="0" fill="url(#b3)" stroke="#1a1a1a" stroke-width="0.7"/>
<rect x="230.50" y="171.20" width="9.80" height="58.40" rx="0" fill="url(#b4)" stroke="#1a1a1a" stroke-width="0.7"/>
<text x="188.95" y="198.60" font-size="3.0" text-anchor="middle" fill="#201000" textLength="46" lengthAdjust="spacingAndGlyphs" transform="rotate(-90 188.95 198.60)">Thermal resistance of convective</text>
<text x="192.15" y="198.60" font-size="3.0" text-anchor="middle" fill="#201000" textLength="39.6" lengthAdjust="spacingAndGlyphs" transform="rotate(-90 192.15 198.60)">heat transfer outside the channel</text>
<text x="204.10" y="198.60" font-size="3.0" text-anchor="middle" fill="#201000" textLength="46" lengthAdjust="spacingAndGlyphs" transform="rotate(-90 204.10 198.60)">Thermal resistance of wall thermal</text>
<text x="207.30" y="198.60" font-size="3.0" text-anchor="middle" fill="#201000" textLength="14.399999999999999" lengthAdjust="spacingAndGlyphs" transform="rotate(-90 207.30 198.60)">conductivity</text>
<text x="219.20" y="198.60" font-size="3.0" text-anchor="middle" fill="#201000" textLength="46" lengthAdjust="spacingAndGlyphs" transform="rotate(-90 219.20 198.60)">Thermal resistance of convective</text>
<text x="222.40" y="198.60" font-size="3.0" text-anchor="middle" fill="#201000" textLength="38.4" lengthAdjust="spacingAndGlyphs" transform="rotate(-90 222.40 198.60)">heat transfer inside the channel</text>
<text x="234.60" y="198.60" font-size="3.0" text-anchor="middle" fill="#201000" textLength="46" lengthAdjust="spacingAndGlyphs" transform="rotate(-90 234.60 198.60)">Thermal resistance of convection heat</text>
<text x="237.80" y="198.60" font-size="3.0" text-anchor="middle" fill="#201000" textLength="39.6" lengthAdjust="spacingAndGlyphs" transform="rotate(-90 237.80 198.60)">transfer between air and droplets</text>
<text x="182.20" y="201.20" font-size="2.8" text-anchor="middle" fill="#444" font-style="italic">T<tspan font-size="1.6">supply</tspan></text>
<text x="197.40" y="201.20" font-size="2.8" text-anchor="middle" fill="#444" font-style="italic">T<tspan font-size="1.6">wall,out</tspan></text>
<text x="212.40" y="201.20" font-size="2.8" text-anchor="middle" fill="#444" font-style="italic">T<tspan font-size="1.6">wall,in</tspan></text>
<text x="227.40" y="201.20" font-size="2.8" text-anchor="middle" fill="#444" font-style="italic">T<tspan font-size="1.6">a</tspan></text>
<text x="243.00" y="201.20" font-size="2.8" text-anchor="middle" fill="#444" font-style="italic">T<tspan font-size="1.6">d</tspan></text>
<line x1="195.00" y1="230.40" x2="224.50" y2="230.40" stroke="#2f5fc0" stroke-width="0.5"/>
<polygon points="224.5,229.6 226.5,230.4 224.5,231.2" fill="#2f5fc0"/>
<text x="212.20" y="235.00" font-size="3.3" text-anchor="middle" font-style="italic">T<tspan font-size="2">supply,water</tspan> &gt; T<tspan font-size="2">wall,out</tspan> &gt; T<tspan font-size="2">wall,in</tspan> &gt; T<tspan font-size="2">a</tspan> &gt; T<tspan font-size="2">d</tspan></text>
<text x="2.30" y="255.20" font-size="7.3" font-weight="bold">(c)</text>
<line x1="24.30" y1="263.80" x2="24.30" y2="362.20" stroke="#e2e2e2" stroke-width="0.35"/>
<line x1="37.83" y1="263.80" x2="37.83" y2="362.20" stroke="#e2e2e2" stroke-width="0.35"/>
<line x1="51.36" y1="263.80" x2="51.36" y2="362.20" stroke="#e2e2e2" stroke-width="0.35"/>
<line x1="64.89" y1="263.80" x2="64.89" y2="362.20" stroke="#e2e2e2" stroke-width="0.35"/>
<line x1="78.42" y1="263.80" x2="78.42" y2="362.20" stroke="#e2e2e2" stroke-width="0.35"/>
<line x1="91.95" y1="263.80" x2="91.95" y2="362.20" stroke="#e2e2e2" stroke-width="0.35"/>
<line x1="105.48" y1="263.80" x2="105.48" y2="362.20" stroke="#e2e2e2" stroke-width="0.35"/>
<line x1="119.01" y1="263.80" x2="119.01" y2="362.20" stroke="#e2e2e2" stroke-width="0.35"/>
<line x1="132.54" y1="263.80" x2="132.54" y2="362.20" stroke="#e2e2e2" stroke-width="0.35"/>
<line x1="146.07" y1="263.80" x2="146.07" y2="362.20" stroke="#e2e2e2" stroke-width="0.35"/>
<line x1="159.60" y1="263.80" x2="159.60" y2="362.20" stroke="#e2e2e2" stroke-width="0.35"/>
<line x1="173.13" y1="263.80" x2="173.13" y2="362.20" stroke="#e2e2e2" stroke-width="0.35"/>
<line x1="186.66" y1="263.80" x2="186.66" y2="362.20" stroke="#e2e2e2" stroke-width="0.35"/>
<line x1="200.19" y1="263.80" x2="200.19" y2="362.20" stroke="#e2e2e2" stroke-width="0.35"/>
<line x1="213.72" y1="263.80" x2="213.72" y2="362.20" stroke="#e2e2e2" stroke-width="0.35"/>
<line x1="227.25" y1="263.80" x2="227.25" y2="362.20" stroke="#e2e2e2" stroke-width="0.35"/>
<line x1="240.78" y1="263.80" x2="240.78" y2="362.20" stroke="#e2e2e2" stroke-width="0.35"/>
<line x1="19.20" y1="312.30" x2="246.00" y2="312.30" stroke="#e2e2e2" stroke-width="0.35"/>
<line x1="19.20" y1="307.46" x2="246.00" y2="307.46" stroke="#e2e2e2" stroke-width="0.35"/>
<line x1="19.20" y1="302.62" x2="246.00" y2="302.62" stroke="#e2e2e2" stroke-width="0.35"/>
<line x1="19.20" y1="297.78" x2="246.00" y2="297.78" stroke="#e2e2e2" stroke-width="0.35"/>
<line x1="19.20" y1="292.94" x2="246.00" y2="292.94" stroke="#e2e2e2" stroke-width="0.35"/>
<line x1="19.20" y1="288.10" x2="246.00" y2="288.10" stroke="#e2e2e2" stroke-width="0.35"/>
<line x1="19.20" y1="283.26" x2="246.00" y2="283.26" stroke="#e2e2e2" stroke-width="0.35"/>
<line x1="19.20" y1="278.42" x2="246.00" y2="278.42" stroke="#e2e2e2" stroke-width="0.35"/>
<line x1="19.20" y1="273.58" x2="246.00" y2="273.58" stroke="#e2e2e2" stroke-width="0.35"/>
<line x1="19.20" y1="268.74" x2="246.00" y2="268.74" stroke="#e2e2e2" stroke-width="0.35"/>
<line x1="19.20" y1="263.90" x2="246.00" y2="263.90" stroke="#e2e2e2" stroke-width="0.35"/>
<line x1="19.20" y1="362.00" x2="246.00" y2="362.00" stroke="#e2e2e2" stroke-width="0.35"/>
<line x1="19.20" y1="355.50" x2="246.00" y2="355.50" stroke="#e2e2e2" stroke-width="0.35"/>
<line x1="19.20" y1="349.00" x2="246.00" y2="349.00" stroke="#e2e2e2" stroke-width="0.35"/>
<line x1="19.20" y1="342.50" x2="246.00" y2="342.50" stroke="#e2e2e2" stroke-width="0.35"/>
<line x1="19.20" y1="336.00" x2="246.00" y2="336.00" stroke="#e2e2e2" stroke-width="0.35"/>
<line x1="19.20" y1="329.50" x2="246.00" y2="329.50" stroke="#e2e2e2" stroke-width="0.35"/>
<line x1="19.20" y1="323.00" x2="246.00" y2="323.00" stroke="#e2e2e2" stroke-width="0.35"/>
<line x1="19.20" y1="316.50" x2="246.00" y2="316.50" stroke="#e2e2e2" stroke-width="0.35"/>
<rect x="19.20" y="263.80" width="226.80" height="98.40" rx="0" fill="none" stroke="#333" stroke-width="0.5"/>
<line x1="19.20" y1="312.30" x2="20.80" y2="312.30" stroke="#000" stroke-width="0.4"/>
<line x1="246.00" y1="312.30" x2="244.40" y2="312.30" stroke="#000" stroke-width="0.4"/>
<text x="16.90" y="313.70" font-size="4.1" text-anchor="end">44.0</text>
<line x1="19.20" y1="307.46" x2="20.80" y2="307.46" stroke="#000" stroke-width="0.4"/>
<line x1="246.00" y1="307.46" x2="244.40" y2="307.46" stroke="#000" stroke-width="0.4"/>
<text x="16.90" y="308.86" font-size="4.1" text-anchor="end">44.2</text>
<line x1="19.20" y1="302.62" x2="20.80" y2="302.62" stroke="#000" stroke-width="0.4"/>
<line x1="246.00" y1="302.62" x2="244.40" y2="302.62" stroke="#000" stroke-width="0.4"/>
<text x="16.90" y="304.02" font-size="4.1" text-anchor="end">44.4</text>
<line x1="19.20" y1="297.78" x2="20.80" y2="297.78" stroke="#000" stroke-width="0.4"/>
<line x1="246.00" y1="297.78" x2="244.40" y2="297.78" stroke="#000" stroke-width="0.4"/>
<text x="16.90" y="299.18" font-size="4.1" text-anchor="end">44.6</text>
<line x1="19.20" y1="292.94" x2="20.80" y2="292.94" stroke="#000" stroke-width="0.4"/>
<line x1="246.00" y1="292.94" x2="244.40" y2="292.94" stroke="#000" stroke-width="0.4"/>
<text x="16.90" y="294.34" font-size="4.1" text-anchor="end">44.8</text>
<line x1="19.20" y1="288.10" x2="20.80" y2="288.10" stroke="#000" stroke-width="0.4"/>
<line x1="246.00" y1="288.10" x2="244.40" y2="288.10" stroke="#000" stroke-width="0.4"/>
<text x="16.90" y="289.50" font-size="4.1" text-anchor="end">45.0</text>
<line x1="19.20" y1="283.26" x2="20.80" y2="283.26" stroke="#000" stroke-width="0.4"/>
<line x1="246.00" y1="283.26" x2="244.40" y2="283.26" stroke="#000" stroke-width="0.4"/>
<text x="16.90" y="284.66" font-size="4.1" text-anchor="end">45.2</text>
<line x1="19.20" y1="278.42" x2="20.80" y2="278.42" stroke="#000" stroke-width="0.4"/>
<line x1="246.00" y1="278.42" x2="244.40" y2="278.42" stroke="#000" stroke-width="0.4"/>
<text x="16.90" y="279.82" font-size="4.1" text-anchor="end">45.4</text>
<line x1="19.20" y1="273.58" x2="20.80" y2="273.58" stroke="#000" stroke-width="0.4"/>
<line x1="246.00" y1="273.58" x2="244.40" y2="273.58" stroke="#000" stroke-width="0.4"/>
<text x="16.90" y="274.98" font-size="4.1" text-anchor="end">45.6</text>
<line x1="19.20" y1="268.74" x2="20.80" y2="268.74" stroke="#000" stroke-width="0.4"/>
<line x1="246.00" y1="268.74" x2="244.40" y2="268.74" stroke="#000" stroke-width="0.4"/>
<text x="16.90" y="270.14" font-size="4.1" text-anchor="end">45.8</text>
<line x1="19.20" y1="263.90" x2="20.80" y2="263.90" stroke="#000" stroke-width="0.4"/>
<line x1="246.00" y1="263.90" x2="244.40" y2="263.90" stroke="#000" stroke-width="0.4"/>
<text x="16.90" y="265.30" font-size="4.1" text-anchor="end">46.0</text>
<line x1="19.20" y1="309.88" x2="20.10" y2="309.88" stroke="#000" stroke-width="0.35"/>
<line x1="246.00" y1="309.88" x2="245.10" y2="309.88" stroke="#000" stroke-width="0.35"/>
<line x1="19.20" y1="305.04" x2="20.10" y2="305.04" stroke="#000" stroke-width="0.35"/>
<line x1="246.00" y1="305.04" x2="245.10" y2="305.04" stroke="#000" stroke-width="0.35"/>
<line x1="19.20" y1="300.20" x2="20.10" y2="300.20" stroke="#000" stroke-width="0.35"/>
<line x1="246.00" y1="300.20" x2="245.10" y2="300.20" stroke="#000" stroke-width="0.35"/>
<line x1="19.20" y1="295.36" x2="20.10" y2="295.36" stroke="#000" stroke-width="0.35"/>
<line x1="246.00" y1="295.36" x2="245.10" y2="295.36" stroke="#000" stroke-width="0.35"/>
<line x1="19.20" y1="290.52" x2="20.10" y2="290.52" stroke="#000" stroke-width="0.35"/>
<line x1="246.00" y1="290.52" x2="245.10" y2="290.52" stroke="#000" stroke-width="0.35"/>
<line x1="19.20" y1="285.68" x2="20.10" y2="285.68" stroke="#000" stroke-width="0.35"/>
<line x1="246.00" y1="285.68" x2="245.10" y2="285.68" stroke="#000" stroke-width="0.35"/>
<line x1="19.20" y1="280.84" x2="20.10" y2="280.84" stroke="#000" stroke-width="0.35"/>
<line x1="246.00" y1="280.84" x2="245.10" y2="280.84" stroke="#000" stroke-width="0.35"/>
<line x1="19.20" y1="276.00" x2="20.10" y2="276.00" stroke="#000" stroke-width="0.35"/>
<line x1="246.00" y1="276.00" x2="245.10" y2="276.00" stroke="#000" stroke-width="0.35"/>
<line x1="19.20" y1="271.16" x2="20.10" y2="271.16" stroke="#000" stroke-width="0.35"/>
<line x1="246.00" y1="271.16" x2="245.10" y2="271.16" stroke="#000" stroke-width="0.35"/>
<line x1="19.20" y1="266.32" x2="20.10" y2="266.32" stroke="#000" stroke-width="0.35"/>
<line x1="246.00" y1="266.32" x2="245.10" y2="266.32" stroke="#000" stroke-width="0.35"/>
<line x1="19.20" y1="362.00" x2="20.80" y2="362.00" stroke="#000" stroke-width="0.4"/>
<line x1="246.00" y1="362.00" x2="244.40" y2="362.00" stroke="#000" stroke-width="0.4"/>
<text x="16.90" y="363.40" font-size="4.1" text-anchor="end">5</text>
<line x1="19.20" y1="358.75" x2="20.10" y2="358.75" stroke="#000" stroke-width="0.35"/>
<line x1="246.00" y1="358.75" x2="245.10" y2="358.75" stroke="#000" stroke-width="0.35"/>
<line x1="19.20" y1="355.50" x2="20.80" y2="355.50" stroke="#000" stroke-width="0.4"/>
<line x1="246.00" y1="355.50" x2="244.40" y2="355.50" stroke="#000" stroke-width="0.4"/>
<text x="16.90" y="356.90" font-size="4.1" text-anchor="end">10</text>
<line x1="19.20" y1="352.25" x2="20.10" y2="352.25" stroke="#000" stroke-width="0.35"/>
<line x1="246.00" y1="352.25" x2="245.10" y2="352.25" stroke="#000" stroke-width="0.35"/>
<line x1="19.20" y1="349.00" x2="20.80" y2="349.00" stroke="#000" stroke-width="0.4"/>
<line x1="246.00" y1="349.00" x2="244.40" y2="349.00" stroke="#000" stroke-width="0.4"/>
<text x="16.90" y="350.40" font-size="4.1" text-anchor="end">15</text>
<line x1="19.20" y1="345.75" x2="20.10" y2="345.75" stroke="#000" stroke-width="0.35"/>
<line x1="246.00" y1="345.75" x2="245.10" y2="345.75" stroke="#000" stroke-width="0.35"/>
<line x1="19.20" y1="342.50" x2="20.80" y2="342.50" stroke="#000" stroke-width="0.4"/>
<line x1="246.00" y1="342.50" x2="244.40" y2="342.50" stroke="#000" stroke-width="0.4"/>
<text x="16.90" y="343.90" font-size="4.1" text-anchor="end">20</text>
<line x1="19.20" y1="339.25" x2="20.10" y2="339.25" stroke="#000" stroke-width="0.35"/>
<line x1="246.00" y1="339.25" x2="245.10" y2="339.25" stroke="#000" stroke-width="0.35"/>
<line x1="19.20" y1="336.00" x2="20.80" y2="336.00" stroke="#000" stroke-width="0.4"/>
<line x1="246.00" y1="336.00" x2="244.40" y2="336.00" stroke="#000" stroke-width="0.4"/>
<text x="16.90" y="337.40" font-size="4.1" text-anchor="end">25</text>
<line x1="19.20" y1="332.75" x2="20.10" y2="332.75" stroke="#000" stroke-width="0.35"/>
<line x1="246.00" y1="332.75" x2="245.10" y2="332.75" stroke="#000" stroke-width="0.35"/>
<line x1="19.20" y1="329.50" x2="20.80" y2="329.50" stroke="#000" stroke-width="0.4"/>
<line x1="246.00" y1="329.50" x2="244.40" y2="329.50" stroke="#000" stroke-width="0.4"/>
<text x="16.90" y="330.90" font-size="4.1" text-anchor="end">30</text>
<line x1="19.20" y1="326.25" x2="20.10" y2="326.25" stroke="#000" stroke-width="0.35"/>
<line x1="246.00" y1="326.25" x2="245.10" y2="326.25" stroke="#000" stroke-width="0.35"/>
<line x1="19.20" y1="323.00" x2="20.80" y2="323.00" stroke="#000" stroke-width="0.4"/>
<line x1="246.00" y1="323.00" x2="244.40" y2="323.00" stroke="#000" stroke-width="0.4"/>
<text x="16.90" y="324.40" font-size="4.1" text-anchor="end">35</text>
<line x1="19.20" y1="319.75" x2="20.10" y2="319.75" stroke="#000" stroke-width="0.35"/>
<line x1="246.00" y1="319.75" x2="245.10" y2="319.75" stroke="#000" stroke-width="0.35"/>
<line x1="19.20" y1="316.50" x2="20.80" y2="316.50" stroke="#000" stroke-width="0.4"/>
<line x1="246.00" y1="316.50" x2="244.40" y2="316.50" stroke="#000" stroke-width="0.4"/>
<text x="16.90" y="317.90" font-size="4.1" text-anchor="end">40</text>
<rect x="17.60" y="312.60" width="3.20" height="3.20" rx="0" fill="#fff" stroke="none" stroke-width="0.5"/>
<path d="M17.60,313.6 q0.8,-0.8 1.6,0 t1.6,0 M17.60,315.2 q0.8,-0.8 1.6,0 t1.6,0" fill="none" stroke="#333" stroke-width="0.35"/>
<rect x="244.40" y="312.60" width="3.20" height="3.20" rx="0" fill="#fff" stroke="none" stroke-width="0.5"/>
<path d="M244.40,313.6 q0.8,-0.8 1.6,0 t1.6,0 M244.40,315.2 q0.8,-0.8 1.6,0 t1.6,0" fill="none" stroke="#333" stroke-width="0.35"/>
<line x1="24.30" y1="362.20" x2="24.30" y2="360.60" stroke="#000" stroke-width="0.4"/>
<line x1="24.30" y1="263.80" x2="24.30" y2="265.40" stroke="#000" stroke-width="0.4"/>
<text x="24.30" y="366.60" font-size="3.9" text-anchor="middle">0.0</text>
<line x1="37.83" y1="362.20" x2="37.83" y2="361.30" stroke="#000" stroke-width="0.35"/>
<line x1="37.83" y1="263.80" x2="37.83" y2="264.70" stroke="#000" stroke-width="0.35"/>
<line x1="51.36" y1="362.20" x2="51.36" y2="360.60" stroke="#000" stroke-width="0.4"/>
<line x1="51.36" y1="263.80" x2="51.36" y2="265.40" stroke="#000" stroke-width="0.4"/>
<text x="51.36" y="366.60" font-size="3.9" text-anchor="middle">0.1</text>
<line x1="64.89" y1="362.20" x2="64.89" y2="361.30" stroke="#000" stroke-width="0.35"/>
<line x1="64.89" y1="263.80" x2="64.89" y2="264.70" stroke="#000" stroke-width="0.35"/>
<line x1="78.42" y1="362.20" x2="78.42" y2="360.60" stroke="#000" stroke-width="0.4"/>
<line x1="78.42" y1="263.80" x2="78.42" y2="265.40" stroke="#000" stroke-width="0.4"/>
<text x="78.42" y="366.60" font-size="3.9" text-anchor="middle">0.2</text>
<line x1="91.95" y1="362.20" x2="91.95" y2="361.30" stroke="#000" stroke-width="0.35"/>
<line x1="91.95" y1="263.80" x2="91.95" y2="264.70" stroke="#000" stroke-width="0.35"/>
<line x1="105.48" y1="362.20" x2="105.48" y2="360.60" stroke="#000" stroke-width="0.4"/>
<line x1="105.48" y1="263.80" x2="105.48" y2="265.40" stroke="#000" stroke-width="0.4"/>
<text x="105.48" y="366.60" font-size="3.9" text-anchor="middle">0.3</text>
<line x1="119.01" y1="362.20" x2="119.01" y2="361.30" stroke="#000" stroke-width="0.35"/>
<line x1="119.01" y1="263.80" x2="119.01" y2="264.70" stroke="#000" stroke-width="0.35"/>
<line x1="132.54" y1="362.20" x2="132.54" y2="360.60" stroke="#000" stroke-width="0.4"/>
<line x1="132.54" y1="263.80" x2="132.54" y2="265.40" stroke="#000" stroke-width="0.4"/>
<text x="132.54" y="366.60" font-size="3.9" text-anchor="middle">0.4</text>
<line x1="146.07" y1="362.20" x2="146.07" y2="361.30" stroke="#000" stroke-width="0.35"/>
<line x1="146.07" y1="263.80" x2="146.07" y2="264.70" stroke="#000" stroke-width="0.35"/>
<line x1="159.60" y1="362.20" x2="159.60" y2="360.60" stroke="#000" stroke-width="0.4"/>
<line x1="159.60" y1="263.80" x2="159.60" y2="265.40" stroke="#000" stroke-width="0.4"/>
<text x="159.60" y="366.60" font-size="3.9" text-anchor="middle">0.5</text>
<line x1="173.13" y1="362.20" x2="173.13" y2="361.30" stroke="#000" stroke-width="0.35"/>
<line x1="173.13" y1="263.80" x2="173.13" y2="264.70" stroke="#000" stroke-width="0.35"/>
<line x1="186.66" y1="362.20" x2="186.66" y2="360.60" stroke="#000" stroke-width="0.4"/>
<line x1="186.66" y1="263.80" x2="186.66" y2="265.40" stroke="#000" stroke-width="0.4"/>
<text x="186.66" y="366.60" font-size="3.9" text-anchor="middle">0.6</text>
<line x1="200.19" y1="362.20" x2="200.19" y2="361.30" stroke="#000" stroke-width="0.35"/>
<line x1="200.19" y1="263.80" x2="200.19" y2="264.70" stroke="#000" stroke-width="0.35"/>
<line x1="213.72" y1="362.20" x2="213.72" y2="360.60" stroke="#000" stroke-width="0.4"/>
<line x1="213.72" y1="263.80" x2="213.72" y2="265.40" stroke="#000" stroke-width="0.4"/>
<text x="213.72" y="366.60" font-size="3.9" text-anchor="middle">0.7</text>
<line x1="227.25" y1="362.20" x2="227.25" y2="361.30" stroke="#000" stroke-width="0.35"/>
<line x1="227.25" y1="263.80" x2="227.25" y2="264.70" stroke="#000" stroke-width="0.35"/>
<line x1="240.78" y1="362.20" x2="240.78" y2="360.60" stroke="#000" stroke-width="0.4"/>
<line x1="240.78" y1="263.80" x2="240.78" y2="265.40" stroke="#000" stroke-width="0.4"/>
<text x="240.78" y="366.60" font-size="3.9" text-anchor="middle">0.8</text>
<text x="56.0" y="371.8" font-size="4.9" textLength="153" lengthAdjust="spacingAndGlyphs">Position of the tower height for the mixed flow of air and wastewater droplets (m)</text>
<text x="4.7" y="315.6" font-size="5.4" text-anchor="middle" textLength="36" lengthAdjust="spacingAndGlyphs" transform="rotate(-90 4.7 315.6)">Temperature <tspan font-style="italic">T</tspan>(°C)</text>
<polyline points="24.30,277.60 240.78,277.60" fill="none" stroke="#6a6aff" stroke-width="0.6" stroke-dasharray="1.2,0.8"/>
<rect x="23.10" y="275.80" width="2.40" height="2.40" rx="0" fill="#111" stroke="none" stroke-width="0.5"/>
<line x1="24.30" y1="274.40" x2="24.30" y2="279.10" stroke="#000" stroke-width="0.35"/>
<line x1="23.10" y1="274.40" x2="25.50" y2="274.40" stroke="#000" stroke-width="0.35"/>
<rect x="239.58" y="276.40" width="2.40" height="2.40" rx="0" fill="#111" stroke="none" stroke-width="0.5"/>
<path d="M24.00,292.20 C24.17,292.50 23.17,294.03 25.00,294.00 C26.83,293.97 30.23,292.65 35.00,292.00 C39.77,291.35 44.92,290.87 53.60,290.10 C62.28,289.33 75.92,288.23 87.10,287.40 C98.28,286.57 109.52,285.77 120.70,285.10 C131.88,284.43 143.02,283.97 154.20,283.40 C165.38,282.83 177.67,282.22 187.80,281.70 C197.93,281.18 206.17,280.75 215.00,280.30 C223.83,279.85 236.50,279.22 240.80,279.00" fill="none" stroke="#e8a030" stroke-width="0.6" stroke-dasharray="1.4,1.0"/>
<path d="M24.00,292.20 C24.17,292.50 23.17,294.03 25.00,294.00 C26.83,293.97 30.23,292.65 35.00,292.00 C39.77,291.35 44.92,290.87 53.60,290.10 C62.28,289.33 75.92,288.23 87.10,287.40 C98.28,286.57 109.52,285.77 120.70,285.10 C131.88,284.43 143.02,283.97 154.20,283.40 C165.38,282.83 177.67,282.22 187.80,281.70 C197.93,281.18 206.17,280.75 215.00,280.30 C223.83,279.85 236.50,279.22 240.80,279.00" fill="none" stroke="#4cb84c" stroke-width="0.75" stroke-dasharray="1.0,0.6"/>
<path d="M24.30,358.40 C25.25,358.00 28.25,356.73 30.00,356.00 C31.75,355.27 31.20,355.25 34.80,354.00 C38.40,352.75 43.20,350.57 51.60,348.50 C60.00,346.43 74.02,344.03 85.20,341.60 C96.38,339.17 107.52,336.03 118.70,333.90 C129.88,331.77 141.10,330.32 152.30,328.80 C163.50,327.28 178.78,325.93 185.90,324.80 C193.02,323.67 189.40,323.20 195.00,322.00 C200.60,320.80 211.87,318.72 219.50,317.60 C227.13,316.48 237.25,315.68 240.80,315.30" fill="none" stroke="#222" stroke-width="0.6"/>
<path d="M24.30,358.70 C25.25,358.30 28.25,357.03 30.00,356.30 C31.75,355.57 31.20,355.55 34.80,354.30 C38.40,353.05 43.20,350.87 51.60,348.80 C60.00,346.73 74.02,344.33 85.20,341.90 C96.38,339.47 107.52,336.33 118.70,334.20 C129.88,332.07 141.10,330.62 152.30,329.10 C163.50,327.58 178.78,326.15 185.90,325.10 C193.02,324.05 189.40,323.85 195.00,322.80 C200.60,321.75 211.87,319.88 219.50,318.80 C227.13,317.72 237.25,316.72 240.80,316.30" fill="none" stroke="#ff3030" stroke-width="0.75" stroke-dasharray="0.9,0.4"/>
<line x1="24.30" y1="358.50" x2="24.30" y2="346.50" stroke="#ff3030" stroke-width="0.4"/>
<polygon points="22.9,354.3 25.7,354.3 24.3,351.9" fill="#111"/>
<polygon points="239.4,315.6 242.2,315.6 240.8,313.2" fill="#111"/>
<rect x="26.40" y="328.20" width="58.00" height="6.00" rx="0.8" fill="#fff" stroke="#777" stroke-width="0.4"/>
<text x="55.40" y="332.40" font-size="3.8" text-anchor="middle" textLength="52.5" lengthAdjust="spacingAndGlyphs">Inlet brine concentration is 10 wt%</text>
<line x1="44.30" y1="334.20" x2="25.60" y2="351.20" stroke="#000" stroke-width="0.35"/>
<polygon points="25.1,351.8 25.6,349.6 26.9,350.7" fill="#111"/>
<text x="53.30" y="356.10" font-size="4.3" textLength="29.2" lengthAdjust="spacingAndGlyphs">From Inlet of Tower</text>
<text x="103.00" y="351.70" font-size="4.3" textLength="57.7" lengthAdjust="spacingAndGlyphs">Flowing Direction of The Mixed Flow</text>
<line x1="88.50" y1="354.50" x2="170.50" y2="354.50" stroke="#000" stroke-width="1.0"/>
<polygon points="169.8,353.3 173.6,354.5 169.8,355.7" fill="#111"/>
<text x="184.90" y="355.80" font-size="4.3" textLength="28.5" lengthAdjust="spacingAndGlyphs">To Outlet of Tower</text>
<rect x="83.00" y="290.70" width="93.60" height="35.00" rx="0" fill="#fff" stroke="#888" stroke-width="0.4"/>
<line x1="87.30" y1="294.60" x2="93.90" y2="294.60" stroke="#222" stroke-width="0.6"/>
<text x="94.80" y="295.70" font-size="3.3" textLength="39.4" lengthAdjust="spacingAndGlyphs">Air temperature by simulation <tspan font-style="italic">T</tspan><tspan font-size="1.8">a</tspan></text>
<line x1="87.30" y1="299.05" x2="93.90" y2="299.05" stroke="#ff7070" stroke-width="0.6" stroke-dasharray="0.8,0.5"/>
<text x="94.80" y="300.15" font-size="3.3" textLength="46.7" lengthAdjust="spacingAndGlyphs">Saturated droplet temperature by simulation <tspan font-style="italic">T</tspan><tspan font-size="1.8">d</tspan></text>
<polygon points="89.4,304.50 91.8,304.50 90.6,302.40" fill="#111"/>
<text x="94.80" y="304.60" font-size="3.3" textLength="44.4" lengthAdjust="spacingAndGlyphs">Air temperature by experiment test <tspan font-style="italic">T</tspan><tspan font-size="1.8">a</tspan></text>
<line x1="87.30" y1="307.95" x2="93.90" y2="307.95" stroke="#8080ff" stroke-width="0.6" stroke-dasharray="1,0.6"/>
<text x="94.80" y="309.05" font-size="3.3" textLength="65.0" lengthAdjust="spacingAndGlyphs">Supply hot water temperature by simulation <tspan font-style="italic">T</tspan><tspan font-size="1.8">supply,water</tspan></text>
<line x1="87.30" y1="312.40" x2="93.90" y2="312.40" stroke="#ff9900" stroke-width="0.6" stroke-dasharray="1.4,0.7"/>
<text x="94.80" y="313.50" font-size="3.3" textLength="78.8" lengthAdjust="spacingAndGlyphs">Inner wall surface temperature of the channel by simulation <tspan font-style="italic">T</tspan><tspan font-size="1.8">wall,in</tspan></text>
<line x1="87.30" y1="316.85" x2="93.90" y2="316.85" stroke="#3cb043" stroke-width="0.6" stroke-dasharray="0.6,0.8"/>
<text x="94.80" y="317.95" font-size="3.3" textLength="78.8" lengthAdjust="spacingAndGlyphs">Outer wall surface temperature of the channel by simulation <tspan font-style="italic">T</tspan><tspan font-size="1.8">wall,out</tspan></text>
<rect x="89.60" y="320.30" width="2.00" height="2.00" rx="0" fill="#111" stroke="none" stroke-width="0.5"/>
<text x="94.80" y="322.40" font-size="3.3" textLength="69.4" lengthAdjust="spacingAndGlyphs">Supply hot water temperature by experiment test <tspan font-style="italic">T</tspan><tspan font-size="1.8">supply,water</tspan></text>
<text x="274.00" y="9.90" font-size="6.9" font-weight="bold">(d)</text>
<line x1="288.40" y1="14.50" x2="288.40" y2="94.30" stroke="#e2e2e2" stroke-width="0.35"/>
<line x1="302.85" y1="14.50" x2="302.85" y2="94.30" stroke="#e2e2e2" stroke-width="0.35"/>
<line x1="317.30" y1="14.50" x2="317.30" y2="94.30" stroke="#e2e2e2" stroke-width="0.35"/>
<line x1="331.75" y1="14.50" x2="331.75" y2="94.30" stroke="#e2e2e2" stroke-width="0.35"/>
<line x1="346.20" y1="14.50" x2="346.20" y2="94.30" stroke="#e2e2e2" stroke-width="0.35"/>
<line x1="360.65" y1="14.50" x2="360.65" y2="94.30" stroke="#e2e2e2" stroke-width="0.35"/>
<line x1="375.10" y1="14.50" x2="375.10" y2="94.30" stroke="#e2e2e2" stroke-width="0.35"/>
<line x1="389.55" y1="14.50" x2="389.55" y2="94.30" stroke="#e2e2e2" stroke-width="0.35"/>
<line x1="404.00" y1="14.50" x2="404.00" y2="94.30" stroke="#e2e2e2" stroke-width="0.35"/>
<line x1="418.45" y1="14.50" x2="418.45" y2="94.30" stroke="#e2e2e2" stroke-width="0.35"/>
<line x1="432.90" y1="14.50" x2="432.90" y2="94.30" stroke="#e2e2e2" stroke-width="0.35"/>
<line x1="447.35" y1="14.50" x2="447.35" y2="94.30" stroke="#e2e2e2" stroke-width="0.35"/>
<line x1="461.80" y1="14.50" x2="461.80" y2="94.30" stroke="#e2e2e2" stroke-width="0.35"/>
<line x1="476.25" y1="14.50" x2="476.25" y2="94.30" stroke="#e2e2e2" stroke-width="0.35"/>
<line x1="490.70" y1="14.50" x2="490.70" y2="94.30" stroke="#e2e2e2" stroke-width="0.35"/>
<line x1="505.15" y1="14.50" x2="505.15" y2="94.30" stroke="#e2e2e2" stroke-width="0.35"/>
<line x1="519.60" y1="14.50" x2="519.60" y2="94.30" stroke="#e2e2e2" stroke-width="0.35"/>
<line x1="282.30" y1="78.34" x2="525.40" y2="78.34" stroke="#e2e2e2" stroke-width="0.35"/>
<line x1="282.30" y1="62.38" x2="525.40" y2="62.38" stroke="#e2e2e2" stroke-width="0.35"/>
<line x1="282.30" y1="46.42" x2="525.40" y2="46.42" stroke="#e2e2e2" stroke-width="0.35"/>
<line x1="282.30" y1="30.46" x2="525.40" y2="30.46" stroke="#e2e2e2" stroke-width="0.35"/>
<rect x="282.30" y="14.50" width="243.10" height="79.80" rx="0" fill="none" stroke="#333" stroke-width="0.5"/>
<line x1="282.30" y1="94.30" x2="283.90" y2="94.30" stroke="#000" stroke-width="0.4"/>
<text x="280.70" y="95.65" font-size="3.9" text-anchor="end">0.010</text>
<line x1="282.30" y1="86.32" x2="283.20" y2="86.32" stroke="#000" stroke-width="0.35"/>
<line x1="282.30" y1="78.34" x2="283.90" y2="78.34" stroke="#000" stroke-width="0.4"/>
<text x="280.70" y="79.69" font-size="3.9" text-anchor="end">0.015</text>
<line x1="282.30" y1="70.36" x2="283.20" y2="70.36" stroke="#000" stroke-width="0.35"/>
<line x1="282.30" y1="62.38" x2="283.90" y2="62.38" stroke="#000" stroke-width="0.4"/>
<text x="280.70" y="63.73" font-size="3.9" text-anchor="end">0.020</text>
<line x1="282.30" y1="54.40" x2="283.20" y2="54.40" stroke="#000" stroke-width="0.35"/>
<line x1="282.30" y1="46.42" x2="283.90" y2="46.42" stroke="#000" stroke-width="0.4"/>
<text x="280.70" y="47.77" font-size="3.9" text-anchor="end">0.025</text>
<line x1="282.30" y1="38.44" x2="283.20" y2="38.44" stroke="#000" stroke-width="0.35"/>
<line x1="282.30" y1="30.46" x2="283.90" y2="30.46" stroke="#000" stroke-width="0.4"/>
<text x="280.70" y="31.81" font-size="3.9" text-anchor="end">0.030</text>
<line x1="282.30" y1="22.48" x2="283.20" y2="22.48" stroke="#000" stroke-width="0.35"/>
<line x1="282.30" y1="14.50" x2="283.90" y2="14.50" stroke="#000" stroke-width="0.4"/>
<text x="280.70" y="15.85" font-size="3.9" text-anchor="end">0.035</text>
<line x1="288.40" y1="94.30" x2="288.40" y2="92.70" stroke="#000" stroke-width="0.4"/>
<line x1="288.40" y1="14.50" x2="288.40" y2="16.10" stroke="#000" stroke-width="0.4"/>
<text x="288.40" y="99.90" font-size="4.1" text-anchor="middle">0.0</text>
<line x1="302.85" y1="94.30" x2="302.85" y2="93.40" stroke="#000" stroke-width="0.35"/>
<line x1="302.85" y1="14.50" x2="302.85" y2="15.40" stroke="#000" stroke-width="0.35"/>
<line x1="317.30" y1="94.30" x2="317.30" y2="92.70" stroke="#000" stroke-width="0.4"/>
<line x1="317.30" y1="14.50" x2="317.30" y2="16.10" stroke="#000" stroke-width="0.4"/>
<text x="317.30" y="99.90" font-size="4.1" text-anchor="middle">0.1</text>
<line x1="331.75" y1="94.30" x2="331.75" y2="93.40" stroke="#000" stroke-width="0.35"/>
<line x1="331.75" y1="14.50" x2="331.75" y2="15.40" stroke="#000" stroke-width="0.35"/>
<line x1="346.20" y1="94.30" x2="346.20" y2="92.70" stroke="#000" stroke-width="0.4"/>
<line x1="346.20" y1="14.50" x2="346.20" y2="16.10" stroke="#000" stroke-width="0.4"/>
<text x="346.20" y="99.90" font-size="4.1" text-anchor="middle">0.2</text>
<line x1="360.65" y1="94.30" x2="360.65" y2="93.40" stroke="#000" stroke-width="0.35"/>
<line x1="360.65" y1="14.50" x2="360.65" y2="15.40" stroke="#000" stroke-width="0.35"/>
<line x1="375.10" y1="94.30" x2="375.10" y2="92.70" stroke="#000" stroke-width="0.4"/>
<line x1="375.10" y1="14.50" x2="375.10" y2="16.10" stroke="#000" stroke-width="0.4"/>
<text x="375.10" y="99.90" font-size="4.1" text-anchor="middle">0.3</text>
<line x1="389.55" y1="94.30" x2="389.55" y2="93.40" stroke="#000" stroke-width="0.35"/>
<line x1="389.55" y1="14.50" x2="389.55" y2="15.40" stroke="#000" stroke-width="0.35"/>
<line x1="404.00" y1="94.30" x2="404.00" y2="92.70" stroke="#000" stroke-width="0.4"/>
<line x1="404.00" y1="14.50" x2="404.00" y2="16.10" stroke="#000" stroke-width="0.4"/>
<text x="404.00" y="99.90" font-size="4.1" text-anchor="middle">0.4</text>
<line x1="418.45" y1="94.30" x2="418.45" y2="93.40" stroke="#000" stroke-width="0.35"/>
<line x1="418.45" y1="14.50" x2="418.45" y2="15.40" stroke="#000" stroke-width="0.35"/>
<line x1="432.90" y1="94.30" x2="432.90" y2="92.70" stroke="#000" stroke-width="0.4"/>
<line x1="432.90" y1="14.50" x2="432.90" y2="16.10" stroke="#000" stroke-width="0.4"/>
<text x="432.90" y="99.90" font-size="4.1" text-anchor="middle">0.5</text>
<line x1="447.35" y1="94.30" x2="447.35" y2="93.40" stroke="#000" stroke-width="0.35"/>
<line x1="447.35" y1="14.50" x2="447.35" y2="15.40" stroke="#000" stroke-width="0.35"/>
<line x1="461.80" y1="94.30" x2="461.80" y2="92.70" stroke="#000" stroke-width="0.4"/>
<line x1="461.80" y1="14.50" x2="461.80" y2="16.10" stroke="#000" stroke-width="0.4"/>
<text x="461.80" y="99.90" font-size="4.1" text-anchor="middle">0.6</text>
<line x1="476.25" y1="94.30" x2="476.25" y2="93.40" stroke="#000" stroke-width="0.35"/>
<line x1="476.25" y1="14.50" x2="476.25" y2="15.40" stroke="#000" stroke-width="0.35"/>
<line x1="490.70" y1="94.30" x2="490.70" y2="92.70" stroke="#000" stroke-width="0.4"/>
<line x1="490.70" y1="14.50" x2="490.70" y2="16.10" stroke="#000" stroke-width="0.4"/>
<text x="490.70" y="99.90" font-size="4.1" text-anchor="middle">0.7</text>
<line x1="505.15" y1="94.30" x2="505.15" y2="93.40" stroke="#000" stroke-width="0.35"/>
<line x1="505.15" y1="14.50" x2="505.15" y2="15.40" stroke="#000" stroke-width="0.35"/>
<line x1="519.60" y1="94.30" x2="519.60" y2="92.70" stroke="#000" stroke-width="0.4"/>
<line x1="519.60" y1="14.50" x2="519.60" y2="16.10" stroke="#000" stroke-width="0.4"/>
<text x="519.60" y="99.90" font-size="4.1" text-anchor="middle">0.8</text>
<line x1="525.40" y1="17.20" x2="523.80" y2="17.20" stroke="#000" stroke-width="0.4"/>
<text x="527.60" y="18.60" font-size="4.3">1.0</text>
<line x1="525.40" y1="30.20" x2="523.80" y2="30.20" stroke="#000" stroke-width="0.4"/>
<text x="527.60" y="31.60" font-size="4.3">0.9</text>
<line x1="525.40" y1="49.60" x2="523.80" y2="49.60" stroke="#000" stroke-width="0.4"/>
<text x="527.60" y="51.00" font-size="4.3">0.15</text>
<line x1="525.40" y1="64.10" x2="523.80" y2="64.10" stroke="#000" stroke-width="0.4"/>
<text x="527.60" y="65.50" font-size="4.3">0.10</text>
<line x1="525.40" y1="79.30" x2="523.80" y2="79.30" stroke="#000" stroke-width="0.4"/>
<text x="527.60" y="80.70" font-size="4.3">0.05</text>
<line x1="525.40" y1="94.30" x2="523.80" y2="94.30" stroke="#000" stroke-width="0.4"/>
<text x="527.60" y="95.70" font-size="4.3">0.00</text>
<line x1="525.40" y1="23.70" x2="524.50" y2="23.70" stroke="#000" stroke-width="0.35"/>
<line x1="525.40" y1="42.00" x2="524.50" y2="42.00" stroke="#000" stroke-width="0.35"/>
<line x1="525.40" y1="56.90" x2="524.50" y2="56.90" stroke="#000" stroke-width="0.35"/>
<line x1="525.40" y1="71.70" x2="524.50" y2="71.70" stroke="#000" stroke-width="0.35"/>
<line x1="525.40" y1="86.80" x2="524.50" y2="86.80" stroke="#000" stroke-width="0.35"/>
<rect x="523.80" y="33.00" width="3.20" height="3.00" rx="0" fill="#fff" stroke="none" stroke-width="0.5"/>
<path d="M523.80,33.8 q0.8,-0.8 1.6,0 t1.6,0 M523.80,35.4 q0.8,-0.8 1.6,0 t1.6,0" fill="none" stroke="#333" stroke-width="0.35"/>
<text x="265.6" y="57.5" font-size="5.0" text-anchor="middle" textLength="38.5" lengthAdjust="spacingAndGlyphs" transform="rotate(-90 265.6 57.5)">Biot number <tspan font-style="italic">Bi</tspan> (-)</text>
<text x="541.2" y="55.2" font-size="4.9" text-anchor="middle" textLength="45" lengthAdjust="spacingAndGlyphs" transform="rotate(-90 541.2 55.2)">Peclet number <tspan font-style="italic">Pe</tspan> (-)</text>
<text x="319.4" y="103.8" font-size="5.0" textLength="169" lengthAdjust="spacingAndGlyphs">Position of the tower height for the mixed flow of air and wastewater droplets (m)</text>
<line x1="288.40" y1="17.50" x2="520.20" y2="17.50" stroke="#ffbe7a" stroke-width="1.0"/>
<line x1="288.40" y1="20.80" x2="520.20" y2="20.80" stroke="#ffa0a0" stroke-width="1.2"/>
<line x1="286.80" y1="79.40" x2="520.10" y2="79.40" stroke="#3a3a3a" stroke-width="0.7"/>
<polyline points="288.40,37.50 288.40,91.30 300.00,91.60 400.00,92.80 520.00,93.60" fill="none" stroke="#4a4aff" stroke-width="0.6" stroke-dasharray="1,0.7"/>
<text x="319.80" y="88.90" font-size="4.3" textLength="35.0" lengthAdjust="spacingAndGlyphs">From Inlet of Tower</text>
<text x="371.70" y="86.70" font-size="4.3" textLength="66.0" lengthAdjust="spacingAndGlyphs">Flowing Direction of The Mixed Flow</text>
<line x1="372.70" y1="89.80" x2="433.00" y2="89.80" stroke="#000" stroke-width="0.95"/>
<polygon points="432.4,88.6 436.2,89.8 432.4,91.0" fill="#111"/>
<text x="459.60" y="89.80" font-size="4.3" textLength="33.5" lengthAdjust="spacingAndGlyphs">To Outlet of Tower</text>
<line x1="455.00" y1="39.90" x2="462.50" y2="39.90" stroke="#555" stroke-width="0.6"/>
<text x="463.20" y="41.00" font-size="3.4" textLength="19.2" lengthAdjust="spacingAndGlyphs"><tspan font-style="italic">Bi</tspan> for droplets</text>
<line x1="455.00" y1="43.70" x2="462.50" y2="43.70" stroke="#ff8080" stroke-width="0.6"/>
<text x="463.20" y="44.80" font-size="3.4" textLength="44.2" lengthAdjust="spacingAndGlyphs"><tspan font-style="italic">Bi</tspan> for upper limit of applicability</text>
<line x1="455.00" y1="48.60" x2="462.50" y2="48.60" stroke="#4a4aff" stroke-width="0.6" stroke-dasharray="0.9,0.7"/>
<text x="463.20" y="49.70" font-size="3.4" textLength="19.5" lengthAdjust="spacingAndGlyphs"><tspan font-style="italic">Pe</tspan> for droplets</text>
<line x1="455.00" y1="52.70" x2="462.50" y2="52.70" stroke="#ffb060" stroke-width="0.6"/>
<text x="463.20" y="53.80" font-size="3.4" textLength="44.0" lengthAdjust="spacingAndGlyphs"><tspan font-style="italic">Pe</tspan> for upper limit of applicability</text>
<text x="277.40" y="114.80" font-size="6.6" font-weight="bold">(e)</text>
<rect x="295.80" y="116.10" width="234.70" height="123.10" rx="0" fill="none" stroke="#444" stroke-width="0.5"/>
<line x1="295.80" y1="224.30" x2="297.40" y2="224.30" stroke="#000" stroke-width="0.4"/>
<text x="293.20" y="226.00" font-size="5.0" text-anchor="end">0</text>
<line x1="295.80" y1="193.40" x2="297.40" y2="193.40" stroke="#000" stroke-width="0.4"/>
<text x="293.20" y="195.10" font-size="5.0" text-anchor="end">5</text>
<line x1="295.80" y1="162.50" x2="297.40" y2="162.50" stroke="#000" stroke-width="0.4"/>
<text x="293.20" y="164.20" font-size="5.0" text-anchor="end">10</text>
<line x1="295.80" y1="131.60" x2="297.40" y2="131.60" stroke="#000" stroke-width="0.4"/>
<text x="293.20" y="133.30" font-size="5.0" text-anchor="end">15</text>
<line x1="295.80" y1="208.85" x2="296.80" y2="208.85" stroke="#000" stroke-width="0.45"/>
<line x1="295.80" y1="177.95" x2="296.80" y2="177.95" stroke="#000" stroke-width="0.45"/>
<line x1="295.80" y1="147.05" x2="296.80" y2="147.05" stroke="#000" stroke-width="0.45"/>
<line x1="295.50" y1="239.20" x2="295.50" y2="237.60" stroke="#000" stroke-width="0.4"/>
<text x="295.50" y="246.10" font-size="5.0" text-anchor="middle">0</text>
<line x1="315.10" y1="239.20" x2="315.10" y2="238.20" stroke="#000" stroke-width="0.45"/>
<line x1="334.70" y1="239.20" x2="334.70" y2="237.60" stroke="#000" stroke-width="0.4"/>
<text x="334.70" y="246.10" font-size="5.0" text-anchor="middle">10</text>
<line x1="354.30" y1="239.20" x2="354.30" y2="238.20" stroke="#000" stroke-width="0.45"/>
<line x1="373.90" y1="239.20" x2="373.90" y2="237.60" stroke="#000" stroke-width="0.4"/>
<text x="373.90" y="246.10" font-size="5.0" text-anchor="middle">20</text>
<line x1="393.50" y1="239.20" x2="393.50" y2="238.20" stroke="#000" stroke-width="0.45"/>
<line x1="413.10" y1="239.20" x2="413.10" y2="237.60" stroke="#000" stroke-width="0.4"/>
<text x="413.10" y="246.10" font-size="5.0" text-anchor="middle">30</text>
<line x1="432.70" y1="239.20" x2="432.70" y2="238.20" stroke="#000" stroke-width="0.45"/>
<line x1="452.30" y1="239.20" x2="452.30" y2="237.60" stroke="#000" stroke-width="0.4"/>
<text x="452.30" y="246.10" font-size="5.0" text-anchor="middle">40</text>
<line x1="471.90" y1="239.20" x2="471.90" y2="238.20" stroke="#000" stroke-width="0.45"/>
<line x1="491.50" y1="239.20" x2="491.50" y2="237.60" stroke="#000" stroke-width="0.4"/>
<text x="491.50" y="246.10" font-size="5.0" text-anchor="middle">50</text>
<line x1="511.10" y1="239.20" x2="511.10" y2="238.20" stroke="#000" stroke-width="0.45"/>
<line x1="530.70" y1="239.20" x2="530.70" y2="237.60" stroke="#000" stroke-width="0.4"/>
<text x="530.70" y="246.10" font-size="5.0" text-anchor="middle">60</text>
<path d="M295.80,224.30 C297.33,224.30 301.82,224.38 305.00,224.30 C308.18,224.22 312.40,224.18 314.90,223.80 C317.40,223.42 318.35,222.97 320.00,222.00 C321.65,221.03 323.13,219.75 324.80,218.00 C326.47,216.25 328.33,214.00 330.00,211.50 C331.67,209.00 333.22,206.42 334.80,203.00 C336.38,199.58 337.85,195.58 339.50,191.00 C341.15,186.42 343.03,180.58 344.70,175.50 C346.37,170.42 347.83,165.05 349.50,160.50 C351.17,155.95 353.28,151.32 354.70,148.20 C356.12,145.08 356.90,143.58 358.00,141.80 C359.10,140.02 359.97,138.80 361.30,137.50 C362.63,136.20 364.45,134.75 366.00,134.00 C367.55,133.25 369.02,132.97 370.60,133.00 C372.18,133.03 373.73,133.37 375.50,134.20 C377.27,135.03 379.28,136.28 381.20,138.00 C383.12,139.72 384.78,141.90 387.00,144.50 C389.22,147.10 392.00,150.18 394.50,153.60 C397.00,157.02 399.25,160.93 402.00,165.00 C404.75,169.07 408.17,173.75 411.00,178.00 C413.83,182.25 416.23,186.67 419.00,190.50 C421.77,194.33 424.77,197.78 427.60,201.00 C430.43,204.22 433.23,207.33 436.00,209.80 C438.77,212.27 441.53,214.17 444.20,215.80 C446.87,217.43 449.23,218.52 452.00,219.60 C454.77,220.68 457.80,221.63 460.80,222.30 C463.80,222.97 466.68,223.28 470.00,223.60 C473.32,223.92 470.62,224.07 480.70,224.20 C490.78,224.33 522.20,224.37 530.50,224.40" fill="none" stroke="#111" stroke-width="0.85"/>
<line x1="372.70" y1="133.60" x2="372.70" y2="239.20" stroke="#ffa0a0" stroke-width="0.4" stroke-dasharray="0.6,0.6"/>
<line x1="374.50" y1="134.00" x2="374.50" y2="239.20" stroke="#6060ff" stroke-width="0.45" stroke-dasharray="1,0.7"/>
<line x1="381.70" y1="124.40" x2="395.00" y2="124.40" stroke="#444" stroke-width="1.1"/>
<text x="397.6" y="127.1" font-size="5.7" textLength="121" lengthAdjust="spacingAndGlyphs">Droplet size distribution of ultrasonic nebuliser</text>
<text x="397.6" y="134.5" font-size="5.7" textLength="129" lengthAdjust="spacingAndGlyphs">when nebulising water (from measurement report)</text>
<text x="384.10" y="173.20" font-size="4.5" textLength="52.6" lengthAdjust="spacingAndGlyphs">Average droplet diameter by</text>
<text x="384.10" y="178.80" font-size="4.5" textLength="60.8" lengthAdjust="spacingAndGlyphs">the Correlation formula 20.27μm</text>
<line x1="384.50" y1="181.30" x2="376.20" y2="187.60" stroke="#000" stroke-width="0.3"/>
<polygon points="375.4,188.3 376.0,186.8 377.0,187.9" fill="#111"/>
<text x="379.60" y="225.20" font-size="4.5" textLength="52.6" lengthAdjust="spacingAndGlyphs">Average droplet diameter by</text>
<text x="379.60" y="230.30" font-size="4.5" textLength="54.6" lengthAdjust="spacingAndGlyphs">measurement report 19.65μm</text>
<line x1="382.90" y1="217.80" x2="374.30" y2="212.60" stroke="#000" stroke-width="0.3"/>
<polygon points="373.6,212.1 375.2,212.4 374.6,213.6" fill="#111"/>
<text x="277.8" y="182.0" font-size="5.3" text-anchor="middle" textLength="90" lengthAdjust="spacingAndGlyphs" transform="rotate(-90 277.8 182)">Distribution density of droplets (%)</text>
<text x="384.0" y="256.6" font-size="6.4" textLength="57.3" lengthAdjust="spacingAndGlyphs">Droplet diameter (μm)</text>
<text x="281.00" y="252.50" font-size="6.6" font-weight="bold">(f)</text>
<line x1="285.40" y1="263.70" x2="285.40" y2="362.20" stroke="#e2e2e2" stroke-width="0.35"/>
<line x1="300.21" y1="263.70" x2="300.21" y2="362.20" stroke="#e2e2e2" stroke-width="0.35"/>
<line x1="315.02" y1="263.70" x2="315.02" y2="362.20" stroke="#e2e2e2" stroke-width="0.35"/>
<line x1="329.83" y1="263.70" x2="329.83" y2="362.20" stroke="#e2e2e2" stroke-width="0.35"/>
<line x1="344.64" y1="263.70" x2="344.64" y2="362.20" stroke="#e2e2e2" stroke-width="0.35"/>
<line x1="359.45" y1="263.70" x2="359.45" y2="362.20" stroke="#e2e2e2" stroke-width="0.35"/>
<line x1="374.26" y1="263.70" x2="374.26" y2="362.20" stroke="#e2e2e2" stroke-width="0.35"/>
<line x1="389.07" y1="263.70" x2="389.07" y2="362.20" stroke="#e2e2e2" stroke-width="0.35"/>
<line x1="403.88" y1="263.70" x2="403.88" y2="362.20" stroke="#e2e2e2" stroke-width="0.35"/>
<line x1="418.69" y1="263.70" x2="418.69" y2="362.20" stroke="#e2e2e2" stroke-width="0.35"/>
<line x1="433.50" y1="263.70" x2="433.50" y2="362.20" stroke="#e2e2e2" stroke-width="0.35"/>
<line x1="448.31" y1="263.70" x2="448.31" y2="362.20" stroke="#e2e2e2" stroke-width="0.35"/>
<line x1="463.12" y1="263.70" x2="463.12" y2="362.20" stroke="#e2e2e2" stroke-width="0.35"/>
<line x1="477.93" y1="263.70" x2="477.93" y2="362.20" stroke="#e2e2e2" stroke-width="0.35"/>
<line x1="492.74" y1="263.70" x2="492.74" y2="362.20" stroke="#e2e2e2" stroke-width="0.35"/>
<line x1="507.55" y1="263.70" x2="507.55" y2="362.20" stroke="#e2e2e2" stroke-width="0.35"/>
<line x1="522.36" y1="263.70" x2="522.36" y2="362.20" stroke="#e2e2e2" stroke-width="0.35"/>
<line x1="279.40" y1="349.90" x2="528.20" y2="349.90" stroke="#e2e2e2" stroke-width="0.35"/>
<line x1="279.40" y1="337.60" x2="528.20" y2="337.60" stroke="#e2e2e2" stroke-width="0.35"/>
<line x1="279.40" y1="325.30" x2="528.20" y2="325.30" stroke="#e2e2e2" stroke-width="0.35"/>
<line x1="279.40" y1="313.00" x2="528.20" y2="313.00" stroke="#e2e2e2" stroke-width="0.35"/>
<line x1="279.40" y1="300.70" x2="528.20" y2="300.70" stroke="#e2e2e2" stroke-width="0.35"/>
<line x1="279.40" y1="288.40" x2="528.20" y2="288.40" stroke="#e2e2e2" stroke-width="0.35"/>
<line x1="279.40" y1="276.10" x2="528.20" y2="276.10" stroke="#e2e2e2" stroke-width="0.35"/>
<rect x="279.40" y="263.70" width="248.80" height="98.50" rx="0" fill="none" stroke="#333" stroke-width="0.5"/>
<line x1="279.40" y1="362.20" x2="281.00" y2="362.20" stroke="#000" stroke-width="0.4"/>
<text x="277.70" y="363.70" font-size="4.4" text-anchor="end">5</text>
<line x1="279.40" y1="349.90" x2="280.30" y2="349.90" stroke="#000" stroke-width="0.35"/>
<line x1="279.40" y1="337.60" x2="281.00" y2="337.60" stroke="#000" stroke-width="0.4"/>
<text x="277.70" y="339.10" font-size="4.4" text-anchor="end">10</text>
<line x1="279.40" y1="325.30" x2="280.30" y2="325.30" stroke="#000" stroke-width="0.35"/>
<line x1="279.40" y1="313.00" x2="281.00" y2="313.00" stroke="#000" stroke-width="0.4"/>
<text x="277.70" y="314.50" font-size="4.4" text-anchor="end">15</text>
<line x1="279.40" y1="300.70" x2="280.30" y2="300.70" stroke="#000" stroke-width="0.35"/>
<line x1="279.40" y1="288.40" x2="281.00" y2="288.40" stroke="#000" stroke-width="0.4"/>
<text x="277.70" y="289.90" font-size="4.4" text-anchor="end">20</text>
<line x1="279.40" y1="276.10" x2="280.30" y2="276.10" stroke="#000" stroke-width="0.35"/>
<line x1="279.40" y1="263.80" x2="281.00" y2="263.80" stroke="#000" stroke-width="0.4"/>
<text x="277.70" y="265.30" font-size="4.4" text-anchor="end">25</text>
<line x1="285.40" y1="362.20" x2="285.40" y2="360.60" stroke="#000" stroke-width="0.4"/>
<line x1="285.40" y1="263.70" x2="285.40" y2="265.30" stroke="#000" stroke-width="0.4"/>
<text x="285.40" y="367.40" font-size="4.2" text-anchor="middle">0.0</text>
<line x1="300.21" y1="362.20" x2="300.21" y2="361.30" stroke="#000" stroke-width="0.35"/>
<line x1="300.21" y1="263.70" x2="300.21" y2="264.60" stroke="#000" stroke-width="0.35"/>
<line x1="315.02" y1="362.20" x2="315.02" y2="360.60" stroke="#000" stroke-width="0.4"/>
<line x1="315.02" y1="263.70" x2="315.02" y2="265.30" stroke="#000" stroke-width="0.4"/>
<text x="315.02" y="367.40" font-size="4.2" text-anchor="middle">0.1</text>
<line x1="329.83" y1="362.20" x2="329.83" y2="361.30" stroke="#000" stroke-width="0.35"/>
<line x1="329.83" y1="263.70" x2="329.83" y2="264.60" stroke="#000" stroke-width="0.35"/>
<line x1="344.64" y1="362.20" x2="344.64" y2="360.60" stroke="#000" stroke-width="0.4"/>
<line x1="344.64" y1="263.70" x2="344.64" y2="265.30" stroke="#000" stroke-width="0.4"/>
<text x="344.64" y="367.40" font-size="4.2" text-anchor="middle">0.2</text>
<line x1="359.45" y1="362.20" x2="359.45" y2="361.30" stroke="#000" stroke-width="0.35"/>
<line x1="359.45" y1="263.70" x2="359.45" y2="264.60" stroke="#000" stroke-width="0.35"/>
<line x1="374.26" y1="362.20" x2="374.26" y2="360.60" stroke="#000" stroke-width="0.4"/>
<line x1="374.26" y1="263.70" x2="374.26" y2="265.30" stroke="#000" stroke-width="0.4"/>
<text x="374.26" y="367.40" font-size="4.2" text-anchor="middle">0.3</text>
<line x1="389.07" y1="362.20" x2="389.07" y2="361.30" stroke="#000" stroke-width="0.35"/>
<line x1="389.07" y1="263.70" x2="389.07" y2="264.60" stroke="#000" stroke-width="0.35"/>
<line x1="403.88" y1="362.20" x2="403.88" y2="360.60" stroke="#000" stroke-width="0.4"/>
<line x1="403.88" y1="263.70" x2="403.88" y2="265.30" stroke="#000" stroke-width="0.4"/>
<text x="403.88" y="367.40" font-size="4.2" text-anchor="middle">0.4</text>
<line x1="418.69" y1="362.20" x2="418.69" y2="361.30" stroke="#000" stroke-width="0.35"/>
<line x1="418.69" y1="263.70" x2="418.69" y2="264.60" stroke="#000" stroke-width="0.35"/>
<line x1="433.50" y1="362.20" x2="433.50" y2="360.60" stroke="#000" stroke-width="0.4"/>
<line x1="433.50" y1="263.70" x2="433.50" y2="265.30" stroke="#000" stroke-width="0.4"/>
<text x="433.50" y="367.40" font-size="4.2" text-anchor="middle">0.5</text>
<line x1="448.31" y1="362.20" x2="448.31" y2="361.30" stroke="#000" stroke-width="0.35"/>
<line x1="448.31" y1="263.70" x2="448.31" y2="264.60" stroke="#000" stroke-width="0.35"/>
<line x1="463.12" y1="362.20" x2="463.12" y2="360.60" stroke="#000" stroke-width="0.4"/>
<line x1="463.12" y1="263.70" x2="463.12" y2="265.30" stroke="#000" stroke-width="0.4"/>
<text x="463.12" y="367.40" font-size="4.2" text-anchor="middle">0.6</text>
<line x1="477.93" y1="362.20" x2="477.93" y2="361.30" stroke="#000" stroke-width="0.35"/>
<line x1="477.93" y1="263.70" x2="477.93" y2="264.60" stroke="#000" stroke-width="0.35"/>
<line x1="492.74" y1="362.20" x2="492.74" y2="360.60" stroke="#000" stroke-width="0.4"/>
<line x1="492.74" y1="263.70" x2="492.74" y2="265.30" stroke="#000" stroke-width="0.4"/>
<text x="492.74" y="367.40" font-size="4.2" text-anchor="middle">0.7</text>
<line x1="507.55" y1="362.20" x2="507.55" y2="361.30" stroke="#000" stroke-width="0.35"/>
<line x1="507.55" y1="263.70" x2="507.55" y2="264.60" stroke="#000" stroke-width="0.35"/>
<line x1="522.36" y1="362.20" x2="522.36" y2="360.60" stroke="#000" stroke-width="0.4"/>
<line x1="522.36" y1="263.70" x2="522.36" y2="265.30" stroke="#000" stroke-width="0.4"/>
<text x="522.36" y="367.40" font-size="4.2" text-anchor="middle">0.8</text>
<line x1="528.20" y1="263.90" x2="526.60" y2="263.90" stroke="#000" stroke-width="0.4"/>
<text x="530.40" y="265.30" font-size="4.2">3.0</text>
<line x1="528.20" y1="270.85" x2="527.30" y2="270.85" stroke="#000" stroke-width="0.35"/>
<line x1="528.20" y1="277.80" x2="526.60" y2="277.80" stroke="#000" stroke-width="0.4"/>
<text x="530.40" y="279.20" font-size="4.2">2.5</text>
<line x1="528.20" y1="284.75" x2="527.30" y2="284.75" stroke="#000" stroke-width="0.35"/>
<line x1="528.20" y1="291.70" x2="526.60" y2="291.70" stroke="#000" stroke-width="0.4"/>
<text x="530.40" y="293.10" font-size="4.2">2.0</text>
<line x1="528.20" y1="298.65" x2="527.30" y2="298.65" stroke="#000" stroke-width="0.35"/>
<line x1="528.20" y1="305.60" x2="526.60" y2="305.60" stroke="#000" stroke-width="0.4"/>
<text x="530.40" y="307.00" font-size="4.2">1.5</text>
<line x1="528.20" y1="312.55" x2="527.30" y2="312.55" stroke="#000" stroke-width="0.35"/>
<line x1="528.20" y1="319.50" x2="526.60" y2="319.50" stroke="#000" stroke-width="0.4"/>
<text x="530.40" y="320.90" font-size="4.2">1.0</text>
<line x1="528.20" y1="326.45" x2="527.30" y2="326.45" stroke="#000" stroke-width="0.35"/>
<line x1="528.20" y1="333.40" x2="526.60" y2="333.40" stroke="#000" stroke-width="0.4"/>
<text x="530.40" y="334.80" font-size="4.2">0.5</text>
<line x1="528.20" y1="340.35" x2="527.30" y2="340.35" stroke="#000" stroke-width="0.35"/>
<line x1="528.20" y1="347.30" x2="526.60" y2="347.30" stroke="#000" stroke-width="0.4"/>
<text x="530.40" y="348.70" font-size="4.2">0.0</text>
<line x1="528.20" y1="354.25" x2="527.30" y2="354.25" stroke="#000" stroke-width="0.35"/>
<line x1="528.20" y1="361.20" x2="526.60" y2="361.20" stroke="#000" stroke-width="0.4"/>
<text x="530.40" y="362.60" font-size="4.2">-0.5</text>
<text x="265.6" y="312.3" font-size="5.3" text-anchor="middle" textLength="54" lengthAdjust="spacingAndGlyphs" transform="rotate(-90 265.6 312.3)">Droplet diameter <tspan font-style="italic">d</tspan><tspan font-size="3.4" font-style="italic">ad</tspan> (μm)</text>
<text x="543.6" y="312.0" font-size="5.3" text-anchor="middle" textLength="67" lengthAdjust="spacingAndGlyphs" transform="rotate(-90 543.6 312.0)">Fraction of droplet-fallen <tspan font-style="italic">f</tspan><tspan font-size="3.4" font-style="italic">fall</tspan> (%)</text>
<text x="317.6" y="375.0" font-size="5.2" textLength="174" lengthAdjust="spacingAndGlyphs">Position of the tower height for the mixed flow of air and wastewater droplets (m)</text>
<polyline points="285.40,308.50 285.40,311.60 392.00,342.00 522.80,342.20" fill="none" stroke="#3a3aff" stroke-width="0.6" stroke-dasharray="0.9,0.7"/>
<polyline points="285.40,290.50 285.40,292.60 390.00,324.90 463.60,341.20" fill="none" stroke="#30e030" stroke-width="0.6" stroke-dasharray="0.9,0.7"/>
<polyline points="285.40,280.50 285.40,283.00 390.00,317.70 460.00,333.00 522.80,344.30" fill="none" stroke="#ff3a3a" stroke-width="0.6" stroke-dasharray="0.9,0.7"/>
<polyline points="285.40,273.00 285.40,275.60 390.00,311.60 471.70,332.40 504.00,339.80 522.80,344.30" fill="none" stroke="#222" stroke-width="0.55" stroke-dasharray="0.9,0.7"/>
<polyline points="285.40,281.00 285.40,284.50 330.50,298.90 340.00,299.30 522.80,299.30" fill="none" stroke="#4caf50" stroke-width="0.6"/>
<polyline points="285.40,283.50 285.40,286.20 411.70,312.00 522.80,312.00" fill="none" stroke="#9a9aff" stroke-width="0.9"/>
<polyline points="285.40,284.50 285.40,287.90 390.00,310.50 463.60,328.30 522.80,328.30" fill="none" stroke="#ff6060" stroke-width="0.6"/>
<polyline points="285.40,286.00 285.40,288.30 390.00,308.50 471.70,328.90 504.40,341.20 522.80,351.40" fill="none" stroke="#333" stroke-width="0.55"/>
<text x="318.00" y="356.60" font-size="4.3" textLength="35.5" lengthAdjust="spacingAndGlyphs">From Inlet of Tower</text>
<text x="372.20" y="350.60" font-size="4.3" textLength="66.0" lengthAdjust="spacingAndGlyphs">Flowing Direction of The Mixed Flow</text>
<line x1="372.20" y1="355.60" x2="431.00" y2="355.60" stroke="#000" stroke-width="0.95"/>
<polygon points="430.4,354.4 434.2,355.6 430.4,356.8" fill="#111"/>
<text x="461.10" y="356.30" font-size="4.3" textLength="33.0" lengthAdjust="spacingAndGlyphs">To Outlet of Tower</text>
<line x1="409.00" y1="269.00" x2="415.90" y2="269.00" stroke="#9a9a9a" stroke-width="0.7"/>
<text x="417.00" y="270.10" font-size="3.3" textLength="28.5" lengthAdjust="spacingAndGlyphs"><tspan font-style="italic">d</tspan><tspan font-size="2.2">ad</tspan> when <tspan font-style="italic">c</tspan><tspan font-size="2.2">in</tspan>=0 wt%</text>
<line x1="409.00" y1="273.83" x2="415.90" y2="273.83" stroke="#ff8080" stroke-width="0.7"/>
<text x="417.00" y="274.93" font-size="3.3" textLength="28.5" lengthAdjust="spacingAndGlyphs"><tspan font-style="italic">d</tspan><tspan font-size="2.2">ad</tspan> when <tspan font-style="italic">c</tspan><tspan font-size="2.2">in</tspan>=5 wt%</text>
<line x1="409.00" y1="278.66" x2="415.90" y2="278.66" stroke="#8080ff" stroke-width="0.7"/>
<text x="417.00" y="279.76" font-size="3.3" textLength="29.5" lengthAdjust="spacingAndGlyphs"><tspan font-style="italic">d</tspan><tspan font-size="2.2">ad</tspan> when <tspan font-style="italic">c</tspan><tspan font-size="2.2">in</tspan>=10 wt%</text>
<line x1="409.00" y1="283.49" x2="415.90" y2="283.49" stroke="#4caf50" stroke-width="0.7"/>
<text x="417.00" y="284.59" font-size="3.3" textLength="29.5" lengthAdjust="spacingAndGlyphs"><tspan font-style="italic">d</tspan><tspan font-size="2.2">ad</tspan> when <tspan font-style="italic">c</tspan><tspan font-size="2.2">in</tspan>=15 wt%</text>
<line x1="450.10" y1="269.00" x2="456.40" y2="269.00" stroke="#222" stroke-width="0.6" stroke-dasharray="0.9,0.7"/>
<text x="457.70" y="270.10" font-size="3.3" textLength="28.5" lengthAdjust="spacingAndGlyphs"><tspan font-style="italic">f</tspan><tspan font-size="2.2">fall</tspan> when <tspan font-style="italic">c</tspan><tspan font-size="2.2">in</tspan>=0 wt%</text>
<line x1="450.10" y1="273.83" x2="456.40" y2="273.83" stroke="#ff3a3a" stroke-width="0.6" stroke-dasharray="0.9,0.7"/>
<text x="457.70" y="274.93" font-size="3.3" textLength="28.5" lengthAdjust="spacingAndGlyphs"><tspan font-style="italic">f</tspan><tspan font-size="2.2">fall</tspan> when <tspan font-style="italic">c</tspan><tspan font-size="2.2">in</tspan>=5 wt%</text>
<line x1="450.10" y1="278.66" x2="456.40" y2="278.66" stroke="#30e030" stroke-width="0.6" stroke-dasharray="0.9,0.7"/>
<text x="457.70" y="279.76" font-size="3.3" textLength="29.5" lengthAdjust="spacingAndGlyphs"><tspan font-style="italic">f</tspan><tspan font-size="2.2">fall</tspan> when <tspan font-style="italic">c</tspan><tspan font-size="2.2">in</tspan>=10 wt%</text>
<line x1="450.10" y1="283.49" x2="456.40" y2="283.49" stroke="#3a3aff" stroke-width="0.6" stroke-dasharray="0.9,0.7"/>
<text x="457.70" y="284.59" font-size="3.3" textLength="29.5" lengthAdjust="spacingAndGlyphs"><tspan font-style="italic">f</tspan><tspan font-size="2.2">fall</tspan> when <tspan font-style="italic">c</tspan><tspan font-size="2.2">in</tspan>=15 wt%</text>
<text x="545.50" y="9.70" font-size="6.8" font-weight="bold">(g)</text>
<clipPath id="cpg"><rect x="567.5" y="12.6" width="115.29999999999995" height="83.9"/></clipPath>
<g clip-path="url(#cpg)"><line x1="567.50" y1="93.88" x2="673.88" y2="12.60" stroke="#777" stroke-width="0.35"/></g>
<g clip-path="url(#cpg)"><line x1="571.29" y1="96.50" x2="682.80" y2="19.42" stroke="#777" stroke-width="0.35"/></g>
<rect x="567.50" y="12.60" width="115.30" height="83.90" rx="0" fill="none" stroke="#333" stroke-width="0.5"/>
<line x1="581.91" y1="96.50" x2="581.91" y2="94.90" stroke="#000" stroke-width="0.4"/>
<line x1="581.91" y1="12.60" x2="581.91" y2="14.20" stroke="#000" stroke-width="0.4"/>
<text x="581.91" y="101.90" font-size="3.5" text-anchor="middle">30</text>
<line x1="610.74" y1="96.50" x2="610.74" y2="94.90" stroke="#000" stroke-width="0.4"/>
<line x1="610.74" y1="12.60" x2="610.74" y2="14.20" stroke="#000" stroke-width="0.4"/>
<text x="610.74" y="101.90" font-size="3.5" text-anchor="middle">40</text>
<line x1="639.56" y1="96.50" x2="639.56" y2="94.90" stroke="#000" stroke-width="0.4"/>
<line x1="639.56" y1="12.60" x2="639.56" y2="14.20" stroke="#000" stroke-width="0.4"/>
<text x="639.56" y="101.90" font-size="3.5" text-anchor="middle">50</text>
<line x1="668.39" y1="96.50" x2="668.39" y2="94.90" stroke="#000" stroke-width="0.4"/>
<line x1="668.39" y1="12.60" x2="668.39" y2="14.20" stroke="#000" stroke-width="0.4"/>
<text x="668.39" y="101.90" font-size="3.5" text-anchor="middle">60</text>
<line x1="567.50" y1="96.50" x2="567.50" y2="95.60" stroke="#000" stroke-width="0.35"/>
<line x1="567.50" y1="12.60" x2="567.50" y2="13.50" stroke="#000" stroke-width="0.35"/>
<line x1="596.33" y1="96.50" x2="596.33" y2="95.60" stroke="#000" stroke-width="0.35"/>
<line x1="596.33" y1="12.60" x2="596.33" y2="13.50" stroke="#000" stroke-width="0.35"/>
<line x1="625.15" y1="96.50" x2="625.15" y2="95.60" stroke="#000" stroke-width="0.35"/>
<line x1="625.15" y1="12.60" x2="625.15" y2="13.50" stroke="#000" stroke-width="0.35"/>
<line x1="653.97" y1="96.50" x2="653.97" y2="95.60" stroke="#000" stroke-width="0.35"/>
<line x1="653.97" y1="12.60" x2="653.97" y2="13.50" stroke="#000" stroke-width="0.35"/>
<line x1="682.80" y1="96.50" x2="682.80" y2="95.60" stroke="#000" stroke-width="0.35"/>
<line x1="682.80" y1="12.60" x2="682.80" y2="13.50" stroke="#000" stroke-width="0.35"/>
<line x1="567.50" y1="86.01" x2="569.10" y2="86.01" stroke="#000" stroke-width="0.4"/>
<line x1="682.80" y1="86.01" x2="681.20" y2="86.01" stroke="#000" stroke-width="0.4"/>
<text x="565.50" y="87.21" font-size="3.5" text-anchor="end">30</text>
<line x1="567.50" y1="65.04" x2="569.10" y2="65.04" stroke="#000" stroke-width="0.4"/>
<line x1="682.80" y1="65.04" x2="681.20" y2="65.04" stroke="#000" stroke-width="0.4"/>
<text x="565.50" y="66.24" font-size="3.5" text-anchor="end">40</text>
<line x1="567.50" y1="44.06" x2="569.10" y2="44.06" stroke="#000" stroke-width="0.4"/>
<line x1="682.80" y1="44.06" x2="681.20" y2="44.06" stroke="#000" stroke-width="0.4"/>
<text x="565.50" y="45.26" font-size="3.5" text-anchor="end">50</text>
<line x1="567.50" y1="23.09" x2="569.10" y2="23.09" stroke="#000" stroke-width="0.4"/>
<line x1="682.80" y1="23.09" x2="681.20" y2="23.09" stroke="#000" stroke-width="0.4"/>
<text x="565.50" y="24.29" font-size="3.5" text-anchor="end">60</text>
<line x1="567.50" y1="96.50" x2="568.40" y2="96.50" stroke="#000" stroke-width="0.35"/>
<line x1="682.80" y1="96.50" x2="681.90" y2="96.50" stroke="#000" stroke-width="0.35"/>
<line x1="567.50" y1="75.53" x2="568.40" y2="75.53" stroke="#000" stroke-width="0.35"/>
<line x1="682.80" y1="75.53" x2="681.90" y2="75.53" stroke="#000" stroke-width="0.35"/>
<line x1="567.50" y1="54.55" x2="568.40" y2="54.55" stroke="#000" stroke-width="0.35"/>
<line x1="682.80" y1="54.55" x2="681.90" y2="54.55" stroke="#000" stroke-width="0.35"/>
<line x1="567.50" y1="33.57" x2="568.40" y2="33.57" stroke="#000" stroke-width="0.35"/>
<line x1="682.80" y1="33.57" x2="681.90" y2="33.57" stroke="#000" stroke-width="0.35"/>
<line x1="567.50" y1="12.60" x2="568.40" y2="12.60" stroke="#000" stroke-width="0.35"/>
<line x1="682.80" y1="12.60" x2="681.90" y2="12.60" stroke="#000" stroke-width="0.35"/>
<circle cx="584.50" cy="85.80" r="0.65" fill="#111" stroke="none" stroke-width="0.5"/>
<circle cx="587.90" cy="84.90" r="0.65" fill="#111" stroke="none" stroke-width="0.5"/>
<circle cx="593.40" cy="79.70" r="0.65" fill="#111" stroke="none" stroke-width="0.5"/>
<circle cx="600.40" cy="73.20" r="0.65" fill="#111" stroke="none" stroke-width="0.5"/>
<circle cx="601.20" cy="71.30" r="0.65" fill="#111" stroke="none" stroke-width="0.5"/>
<circle cx="608.70" cy="64.90" r="0.65" fill="#111" stroke="none" stroke-width="0.5"/>
<circle cx="613.80" cy="64.00" r="0.65" fill="#111" stroke="none" stroke-width="0.5"/>
<circle cx="619.90" cy="56.50" r="0.65" fill="#111" stroke="none" stroke-width="0.5"/>
<circle cx="621.30" cy="56.00" r="0.65" fill="#111" stroke="none" stroke-width="0.5"/>
<circle cx="628.20" cy="49.60" r="0.65" fill="#111" stroke="none" stroke-width="0.5"/>
<circle cx="630.20" cy="46.80" r="0.65" fill="#111" stroke="none" stroke-width="0.5"/>
<circle cx="631.90" cy="45.40" r="0.65" fill="#111" stroke="none" stroke-width="0.5"/>
<circle cx="633.80" cy="46.00" r="0.65" fill="#111" stroke="none" stroke-width="0.5"/>
<circle cx="632.50" cy="44.50" r="0.65" fill="#111" stroke="none" stroke-width="0.5"/>
<circle cx="638.80" cy="40.70" r="0.65" fill="#111" stroke="none" stroke-width="0.5"/>
<circle cx="641.30" cy="43.40" r="0.65" fill="#111" stroke="none" stroke-width="0.5"/>
<circle cx="648.60" cy="37.00" r="0.65" fill="#111" stroke="none" stroke-width="0.5"/>
<circle cx="651.40" cy="33.70" r="0.65" fill="#111" stroke="none" stroke-width="0.5"/>
<circle cx="652.50" cy="32.90" r="0.65" fill="#111" stroke="none" stroke-width="0.5"/>
<circle cx="656.10" cy="32.00" r="0.65" fill="#111" stroke="none" stroke-width="0.5"/>
<circle cx="659.40" cy="26.70" r="0.65" fill="#111" stroke="none" stroke-width="0.5"/>
<circle cx="662.20" cy="27.80" r="0.65" fill="#111" stroke="none" stroke-width="0.5"/>
<circle cx="663.60" cy="28.70" r="0.65" fill="#111" stroke="none" stroke-width="0.5"/>
<circle cx="663.90" cy="23.90" r="0.65" fill="#111" stroke="none" stroke-width="0.5"/>
<circle cx="673.30" cy="18.20" r="0.65" fill="#111" stroke="none" stroke-width="0.5"/>
<text x="626.50" y="41.20" font-size="4.4" text-anchor="middle">+5%</text>
<text x="643.00" y="57.40" font-size="4.4" text-anchor="middle">-5%</text>
<text x="558.6" y="54.4" font-size="5.0" text-anchor="middle" textLength="62.9" lengthAdjust="spacingAndGlyphs" transform="rotate(-90 558.6 54.4)"><tspan font-style="italic">Air temperature T</tspan><tspan font-size="2.9" font-style="normal">Local,Simulation</tspan> (°C)</text>
<text x="593.4" y="106.4" font-size="5.0" textLength="64.2" lengthAdjust="spacingAndGlyphs"><tspan font-style="italic">Air temperature T</tspan><tspan font-size="2.9" font-style="normal">Local,Experiment</tspan> (°C)</text>
<circle cx="580.60" cy="19.10" r="0.6" fill="#111" stroke="none" stroke-width="0.5"/>
<text x="587.20" y="20.70" font-size="4.0" font-style="italic">t<tspan font-size="2.4">air</tspan></text>
<text x="543.90" y="149.70" font-size="6.8" font-weight="bold">(h)</text>
<clipPath id="cph"><rect x="569.2" y="148.3" width="113.39999999999998" height="82.5"/></clipPath>
<g clip-path="url(#cph)"><line x1="569.20" y1="230.80" x2="672.29" y2="148.30" stroke="#777" stroke-width="0.35"/></g>
<g clip-path="url(#cph)"><line x1="569.20" y1="230.80" x2="682.60" y2="156.55" stroke="#777" stroke-width="0.35"/></g>
<rect x="569.20" y="148.30" width="113.40" height="82.50" rx="0" fill="none" stroke="#333" stroke-width="0.5"/>
<line x1="569.20" y1="230.80" x2="569.20" y2="229.20" stroke="#000" stroke-width="0.4"/>
<line x1="569.20" y1="148.30" x2="569.20" y2="149.90" stroke="#000" stroke-width="0.4"/>
<text x="569.20" y="236.20" font-size="3.5" text-anchor="middle">0</text>
<line x1="589.82" y1="230.80" x2="589.82" y2="229.20" stroke="#000" stroke-width="0.4"/>
<line x1="589.82" y1="148.30" x2="589.82" y2="149.90" stroke="#000" stroke-width="0.4"/>
<text x="589.82" y="236.20" font-size="3.5" text-anchor="middle">20</text>
<line x1="610.44" y1="230.80" x2="610.44" y2="229.20" stroke="#000" stroke-width="0.4"/>
<line x1="610.44" y1="148.30" x2="610.44" y2="149.90" stroke="#000" stroke-width="0.4"/>
<text x="610.44" y="236.20" font-size="3.5" text-anchor="middle">40</text>
<line x1="631.05" y1="230.80" x2="631.05" y2="229.20" stroke="#000" stroke-width="0.4"/>
<line x1="631.05" y1="148.30" x2="631.05" y2="149.90" stroke="#000" stroke-width="0.4"/>
<text x="631.05" y="236.20" font-size="3.5" text-anchor="middle">60</text>
<line x1="651.67" y1="230.80" x2="651.67" y2="229.20" stroke="#000" stroke-width="0.4"/>
<line x1="651.67" y1="148.30" x2="651.67" y2="149.90" stroke="#000" stroke-width="0.4"/>
<text x="651.67" y="236.20" font-size="3.5" text-anchor="middle">80</text>
<line x1="672.29" y1="230.80" x2="672.29" y2="229.20" stroke="#000" stroke-width="0.4"/>
<line x1="672.29" y1="148.30" x2="672.29" y2="149.90" stroke="#000" stroke-width="0.4"/>
<text x="672.29" y="236.20" font-size="3.5" text-anchor="middle">100</text>
<line x1="579.51" y1="230.80" x2="579.51" y2="229.90" stroke="#000" stroke-width="0.35"/>
<line x1="579.51" y1="148.30" x2="579.51" y2="149.20" stroke="#000" stroke-width="0.35"/>
<line x1="600.13" y1="230.80" x2="600.13" y2="229.90" stroke="#000" stroke-width="0.35"/>
<line x1="600.13" y1="148.30" x2="600.13" y2="149.20" stroke="#000" stroke-width="0.35"/>
<line x1="620.75" y1="230.80" x2="620.75" y2="229.90" stroke="#000" stroke-width="0.35"/>
<line x1="620.75" y1="148.30" x2="620.75" y2="149.20" stroke="#000" stroke-width="0.35"/>
<line x1="641.36" y1="230.80" x2="641.36" y2="229.90" stroke="#000" stroke-width="0.35"/>
<line x1="641.36" y1="148.30" x2="641.36" y2="149.20" stroke="#000" stroke-width="0.35"/>
<line x1="661.98" y1="230.80" x2="661.98" y2="229.90" stroke="#000" stroke-width="0.35"/>
<line x1="661.98" y1="148.30" x2="661.98" y2="149.20" stroke="#000" stroke-width="0.35"/>
<line x1="682.60" y1="230.80" x2="682.60" y2="229.90" stroke="#000" stroke-width="0.35"/>
<line x1="682.60" y1="148.30" x2="682.60" y2="149.20" stroke="#000" stroke-width="0.35"/>
<line x1="569.20" y1="230.80" x2="570.80" y2="230.80" stroke="#000" stroke-width="0.4"/>
<line x1="682.60" y1="230.80" x2="681.00" y2="230.80" stroke="#000" stroke-width="0.4"/>
<text x="567.20" y="232.00" font-size="3.5" text-anchor="end">0</text>
<line x1="569.20" y1="215.80" x2="570.80" y2="215.80" stroke="#000" stroke-width="0.4"/>
<line x1="682.60" y1="215.80" x2="681.00" y2="215.80" stroke="#000" stroke-width="0.4"/>
<text x="567.20" y="217.00" font-size="3.5" text-anchor="end">20</text>
<line x1="569.20" y1="200.80" x2="570.80" y2="200.80" stroke="#000" stroke-width="0.4"/>
<line x1="682.60" y1="200.80" x2="681.00" y2="200.80" stroke="#000" stroke-width="0.4"/>
<text x="567.20" y="202.00" font-size="3.5" text-anchor="end">40</text>
<line x1="569.20" y1="185.80" x2="570.80" y2="185.80" stroke="#000" stroke-width="0.4"/>
<line x1="682.60" y1="185.80" x2="681.00" y2="185.80" stroke="#000" stroke-width="0.4"/>
<text x="567.20" y="187.00" font-size="3.5" text-anchor="end">60</text>
<line x1="569.20" y1="170.80" x2="570.80" y2="170.80" stroke="#000" stroke-width="0.4"/>
<line x1="682.60" y1="170.80" x2="681.00" y2="170.80" stroke="#000" stroke-width="0.4"/>
<text x="567.20" y="172.00" font-size="3.5" text-anchor="end">80</text>
<line x1="569.20" y1="155.80" x2="570.80" y2="155.80" stroke="#000" stroke-width="0.4"/>
<line x1="682.60" y1="155.80" x2="681.00" y2="155.80" stroke="#000" stroke-width="0.4"/>
<text x="567.20" y="157.00" font-size="3.5" text-anchor="end">100</text>
<line x1="569.20" y1="223.30" x2="570.10" y2="223.30" stroke="#000" stroke-width="0.35"/>
<line x1="682.60" y1="223.30" x2="681.70" y2="223.30" stroke="#000" stroke-width="0.35"/>
<line x1="569.20" y1="208.30" x2="570.10" y2="208.30" stroke="#000" stroke-width="0.35"/>
<line x1="682.60" y1="208.30" x2="681.70" y2="208.30" stroke="#000" stroke-width="0.35"/>
<line x1="569.20" y1="193.30" x2="570.10" y2="193.30" stroke="#000" stroke-width="0.35"/>
<line x1="682.60" y1="193.30" x2="681.70" y2="193.30" stroke="#000" stroke-width="0.35"/>
<line x1="569.20" y1="178.30" x2="570.10" y2="178.30" stroke="#000" stroke-width="0.35"/>
<line x1="682.60" y1="178.30" x2="681.70" y2="178.30" stroke="#000" stroke-width="0.35"/>
<line x1="569.20" y1="163.30" x2="570.10" y2="163.30" stroke="#000" stroke-width="0.35"/>
<line x1="682.60" y1="163.30" x2="681.70" y2="163.30" stroke="#000" stroke-width="0.35"/>
<line x1="569.20" y1="148.30" x2="570.10" y2="148.30" stroke="#000" stroke-width="0.35"/>
<line x1="682.60" y1="148.30" x2="681.70" y2="148.30" stroke="#000" stroke-width="0.35"/>
<circle cx="580.80" cy="222.60" r="0.65" fill="#111" stroke="none" stroke-width="0.5"/>
<circle cx="582.60" cy="221.30" r="0.65" fill="#111" stroke="none" stroke-width="0.5"/>
<circle cx="584.90" cy="219.50" r="0.65" fill="#111" stroke="none" stroke-width="0.5"/>
<circle cx="586.40" cy="218.10" r="0.65" fill="#111" stroke="none" stroke-width="0.5"/>
<circle cx="587.60" cy="217.20" r="0.65" fill="#111" stroke="none" stroke-width="0.5"/>
<circle cx="588.70" cy="216.50" r="0.65" fill="#111" stroke="none" stroke-width="0.5"/>
<circle cx="590.30" cy="215.40" r="0.65" fill="#111" stroke="none" stroke-width="0.5"/>
<circle cx="591.60" cy="214.70" r="0.65" fill="#111" stroke="none" stroke-width="0.5"/>
<circle cx="593.20" cy="214.30" r="0.65" fill="#111" stroke="none" stroke-width="0.5"/>
<circle cx="595.50" cy="212.00" r="0.65" fill="#111" stroke="none" stroke-width="0.5"/>
<circle cx="596.60" cy="211.40" r="0.65" fill="#111" stroke="none" stroke-width="0.5"/>
<circle cx="597.70" cy="210.50" r="0.65" fill="#111" stroke="none" stroke-width="0.5"/>
<circle cx="598.80" cy="209.80" r="0.65" fill="#111" stroke="none" stroke-width="0.5"/>
<circle cx="603.30" cy="206.40" r="0.65" fill="#111" stroke="none" stroke-width="0.5"/>
<circle cx="604.50" cy="205.90" r="0.65" fill="#111" stroke="none" stroke-width="0.5"/>
<circle cx="605.60" cy="205.30" r="0.65" fill="#111" stroke="none" stroke-width="0.5"/>
<circle cx="609.00" cy="202.30" r="0.65" fill="#111" stroke="none" stroke-width="0.5"/>
<circle cx="614.60" cy="196.20" r="0.65" fill="#111" stroke="none" stroke-width="0.5"/>
<circle cx="615.80" cy="197.40" r="0.65" fill="#111" stroke="none" stroke-width="0.5"/>
<circle cx="617.30" cy="198.50" r="0.65" fill="#111" stroke="none" stroke-width="0.5"/>
<circle cx="639.40" cy="176.60" r="0.65" fill="#111" stroke="none" stroke-width="0.5"/>
<circle cx="640.60" cy="177.50" r="0.65" fill="#111" stroke="none" stroke-width="0.5"/>
<circle cx="644.00" cy="178.60" r="0.65" fill="#111" stroke="none" stroke-width="0.5"/>
<circle cx="649.60" cy="171.40" r="0.65" fill="#111" stroke="none" stroke-width="0.5"/>
<circle cx="671.00" cy="156.80" r="0.65" fill="#111" stroke="none" stroke-width="0.5"/>
<circle cx="672.20" cy="156.30" r="0.65" fill="#111" stroke="none" stroke-width="0.5"/>
<text x="629.30" y="175.90" font-size="4.4" text-anchor="middle">+10%</text>
<text x="645.10" y="192.50" font-size="4.4" text-anchor="middle">-10%</text>
<text x="558.3" y="192.9" font-size="5.0" text-anchor="middle" textLength="69.8" lengthAdjust="spacingAndGlyphs" transform="rotate(-90 558.3 192.9)"><tspan font-style="italic">Air relative humidity RH</tspan><tspan font-size="2.9" font-style="normal">Local,Simulation</tspan> (%)</text>
<text x="590.5" y="242.2" font-size="5.0" textLength="71.2" lengthAdjust="spacingAndGlyphs">Air relative humidity <tspan font-style="italic">RH</tspan><tspan font-size="2.9" font-style="normal">Local,Experiment</tspan> (%)</text>
<circle cx="580.80" cy="154.50" r="0.6" fill="#111" stroke="none" stroke-width="0.5"/>
<text x="587.40" y="156.10" font-size="4.0" font-style="italic">t<tspan font-size="2.4">a</tspan></text>
<text x="546.50" y="269.30" font-size="6.8" font-weight="bold">(i)</text>
<clipPath id="cpi"><rect x="568.9" y="274.5" width="114.20000000000005" height="83.39999999999998"/></clipPath>
<g clip-path="url(#cpi)"><line x1="568.90" y1="357.90" x2="672.72" y2="274.50" stroke="#777" stroke-width="0.35"/></g>
<g clip-path="url(#cpi)"><line x1="568.90" y1="357.90" x2="683.10" y2="282.84" stroke="#777" stroke-width="0.35"/></g>
<rect x="568.90" y="274.50" width="114.20" height="83.40" rx="0" fill="none" stroke="#333" stroke-width="0.5"/>
<line x1="568.90" y1="357.90" x2="568.90" y2="356.30" stroke="#000" stroke-width="0.4"/>
<line x1="568.90" y1="274.50" x2="568.90" y2="276.10" stroke="#000" stroke-width="0.4"/>
<text x="568.90" y="363.30" font-size="3.3" text-anchor="middle">0.0</text>
<line x1="597.45" y1="357.90" x2="597.45" y2="356.30" stroke="#000" stroke-width="0.4"/>
<line x1="597.45" y1="274.50" x2="597.45" y2="276.10" stroke="#000" stroke-width="0.4"/>
<text x="597.45" y="363.30" font-size="3.3" text-anchor="middle">0.1</text>
<line x1="626.00" y1="357.90" x2="626.00" y2="356.30" stroke="#000" stroke-width="0.4"/>
<line x1="626.00" y1="274.50" x2="626.00" y2="276.10" stroke="#000" stroke-width="0.4"/>
<text x="626.00" y="363.30" font-size="3.3" text-anchor="middle">0.2</text>
<line x1="654.55" y1="357.90" x2="654.55" y2="356.30" stroke="#000" stroke-width="0.4"/>
<line x1="654.55" y1="274.50" x2="654.55" y2="276.10" stroke="#000" stroke-width="0.4"/>
<text x="654.55" y="363.30" font-size="3.3" text-anchor="middle">0.3</text>
<line x1="683.10" y1="357.90" x2="683.10" y2="356.30" stroke="#000" stroke-width="0.4"/>
<line x1="683.10" y1="274.50" x2="683.10" y2="276.10" stroke="#000" stroke-width="0.4"/>
<text x="683.10" y="363.30" font-size="3.3" text-anchor="middle">0.4</text>
<line x1="583.17" y1="357.90" x2="583.17" y2="357.00" stroke="#000" stroke-width="0.35"/>
<line x1="583.17" y1="274.50" x2="583.17" y2="275.40" stroke="#000" stroke-width="0.35"/>
<line x1="611.73" y1="357.90" x2="611.73" y2="357.00" stroke="#000" stroke-width="0.35"/>
<line x1="611.73" y1="274.50" x2="611.73" y2="275.40" stroke="#000" stroke-width="0.35"/>
<line x1="640.27" y1="357.90" x2="640.27" y2="357.00" stroke="#000" stroke-width="0.35"/>
<line x1="640.27" y1="274.50" x2="640.27" y2="275.40" stroke="#000" stroke-width="0.35"/>
<line x1="668.83" y1="357.90" x2="668.83" y2="357.00" stroke="#000" stroke-width="0.35"/>
<line x1="668.83" y1="274.50" x2="668.83" y2="275.40" stroke="#000" stroke-width="0.35"/>
<line x1="568.90" y1="357.90" x2="570.50" y2="357.90" stroke="#000" stroke-width="0.4"/>
<line x1="683.10" y1="357.90" x2="681.50" y2="357.90" stroke="#000" stroke-width="0.4"/>
<text x="566.90" y="359.10" font-size="3.3" text-anchor="end">0.0</text>
<line x1="568.90" y1="337.05" x2="570.50" y2="337.05" stroke="#000" stroke-width="0.4"/>
<line x1="683.10" y1="337.05" x2="681.50" y2="337.05" stroke="#000" stroke-width="0.4"/>
<text x="566.90" y="338.25" font-size="3.3" text-anchor="end">0.1</text>
<line x1="568.90" y1="316.20" x2="570.50" y2="316.20" stroke="#000" stroke-width="0.4"/>
<line x1="683.10" y1="316.20" x2="681.50" y2="316.20" stroke="#000" stroke-width="0.4"/>
<text x="566.90" y="317.40" font-size="3.3" text-anchor="end">0.2</text>
<line x1="568.90" y1="295.35" x2="570.50" y2="295.35" stroke="#000" stroke-width="0.4"/>
<line x1="683.10" y1="295.35" x2="681.50" y2="295.35" stroke="#000" stroke-width="0.4"/>
<text x="566.90" y="296.55" font-size="3.3" text-anchor="end">0.3</text>
<line x1="568.90" y1="274.50" x2="570.50" y2="274.50" stroke="#000" stroke-width="0.4"/>
<line x1="683.10" y1="274.50" x2="681.50" y2="274.50" stroke="#000" stroke-width="0.4"/>
<text x="566.90" y="275.70" font-size="3.3" text-anchor="end">0.4</text>
<line x1="568.90" y1="347.47" x2="569.80" y2="347.47" stroke="#000" stroke-width="0.35"/>
<line x1="683.10" y1="347.47" x2="682.20" y2="347.47" stroke="#000" stroke-width="0.35"/>
<line x1="568.90" y1="326.62" x2="569.80" y2="326.62" stroke="#000" stroke-width="0.35"/>
<line x1="683.10" y1="326.62" x2="682.20" y2="326.62" stroke="#000" stroke-width="0.35"/>
<line x1="568.90" y1="305.77" x2="569.80" y2="305.77" stroke="#000" stroke-width="0.35"/>
<line x1="683.10" y1="305.77" x2="682.20" y2="305.77" stroke="#000" stroke-width="0.35"/>
<line x1="568.90" y1="284.93" x2="569.80" y2="284.93" stroke="#000" stroke-width="0.35"/>
<line x1="683.10" y1="284.93" x2="682.20" y2="284.93" stroke="#000" stroke-width="0.35"/>
<circle cx="588.20" cy="343.00" r="0.65" fill="#111" stroke="none" stroke-width="0.5"/>
<circle cx="607.50" cy="328.80" r="0.65" fill="#111" stroke="none" stroke-width="0.5"/>
<circle cx="614.90" cy="322.30" r="0.65" fill="#111" stroke="none" stroke-width="0.5"/>
<circle cx="616.00" cy="322.30" r="0.65" fill="#111" stroke="none" stroke-width="0.5"/>
<circle cx="617.00" cy="322.30" r="0.65" fill="#111" stroke="none" stroke-width="0.5"/>
<circle cx="626.80" cy="314.90" r="0.65" fill="#111" stroke="none" stroke-width="0.5"/>
<circle cx="644.60" cy="303.00" r="0.65" fill="#111" stroke="none" stroke-width="0.5"/>
<circle cx="647.00" cy="300.00" r="0.65" fill="#111" stroke="none" stroke-width="0.5"/>
<circle cx="648.10" cy="300.00" r="0.65" fill="#111" stroke="none" stroke-width="0.5"/>
<circle cx="655.00" cy="299.10" r="0.65" fill="#111" stroke="none" stroke-width="0.5"/>
<circle cx="655.50" cy="298.40" r="0.65" fill="#111" stroke="none" stroke-width="0.5"/>
<circle cx="664.70" cy="287.30" r="0.65" fill="#111" stroke="none" stroke-width="0.5"/>
<circle cx="665.30" cy="287.30" r="0.65" fill="#111" stroke="none" stroke-width="0.5"/>
<circle cx="674.20" cy="282.20" r="0.65" fill="#111" stroke="none" stroke-width="0.5"/>
<circle cx="676.60" cy="281.90" r="0.65" fill="#111" stroke="none" stroke-width="0.5"/>
<circle cx="677.80" cy="281.90" r="0.65" fill="#111" stroke="none" stroke-width="0.5"/>
<circle cx="678.10" cy="285.20" r="0.65" fill="#111" stroke="none" stroke-width="0.5"/>
<text x="628.00" y="302.60" font-size="4.4" text-anchor="middle">+10%</text>
<text x="646.00" y="319.20" font-size="4.4" text-anchor="middle">-10%</text>
<text x="558.9" y="319.5" font-size="5.0" text-anchor="middle" textLength="60" lengthAdjust="spacingAndGlyphs" transform="rotate(-90 558.9 319.5)">Evaporation rate <tspan font-style="italic">ω</tspan><tspan font-size="2.9" font-style="normal">i,Simulation</tspan> (kg/h)</text>
<text x="594.9" y="368.2" font-size="5.0" textLength="61.4" lengthAdjust="spacingAndGlyphs">Evaporation rate <tspan font-style="italic">ω</tspan><tspan font-size="2.9" font-style="normal">i,Experiment</tspan> (kg/h)</text>
<circle cx="580.80" cy="281.00" r="0.6" fill="#111" stroke="none" stroke-width="0.5"/>
<text x="587.40" y="282.60" font-size="4.0" font-style="italic">t<tspan font-size="2.6">d</tspan></text>
</svg>
</body></html>
